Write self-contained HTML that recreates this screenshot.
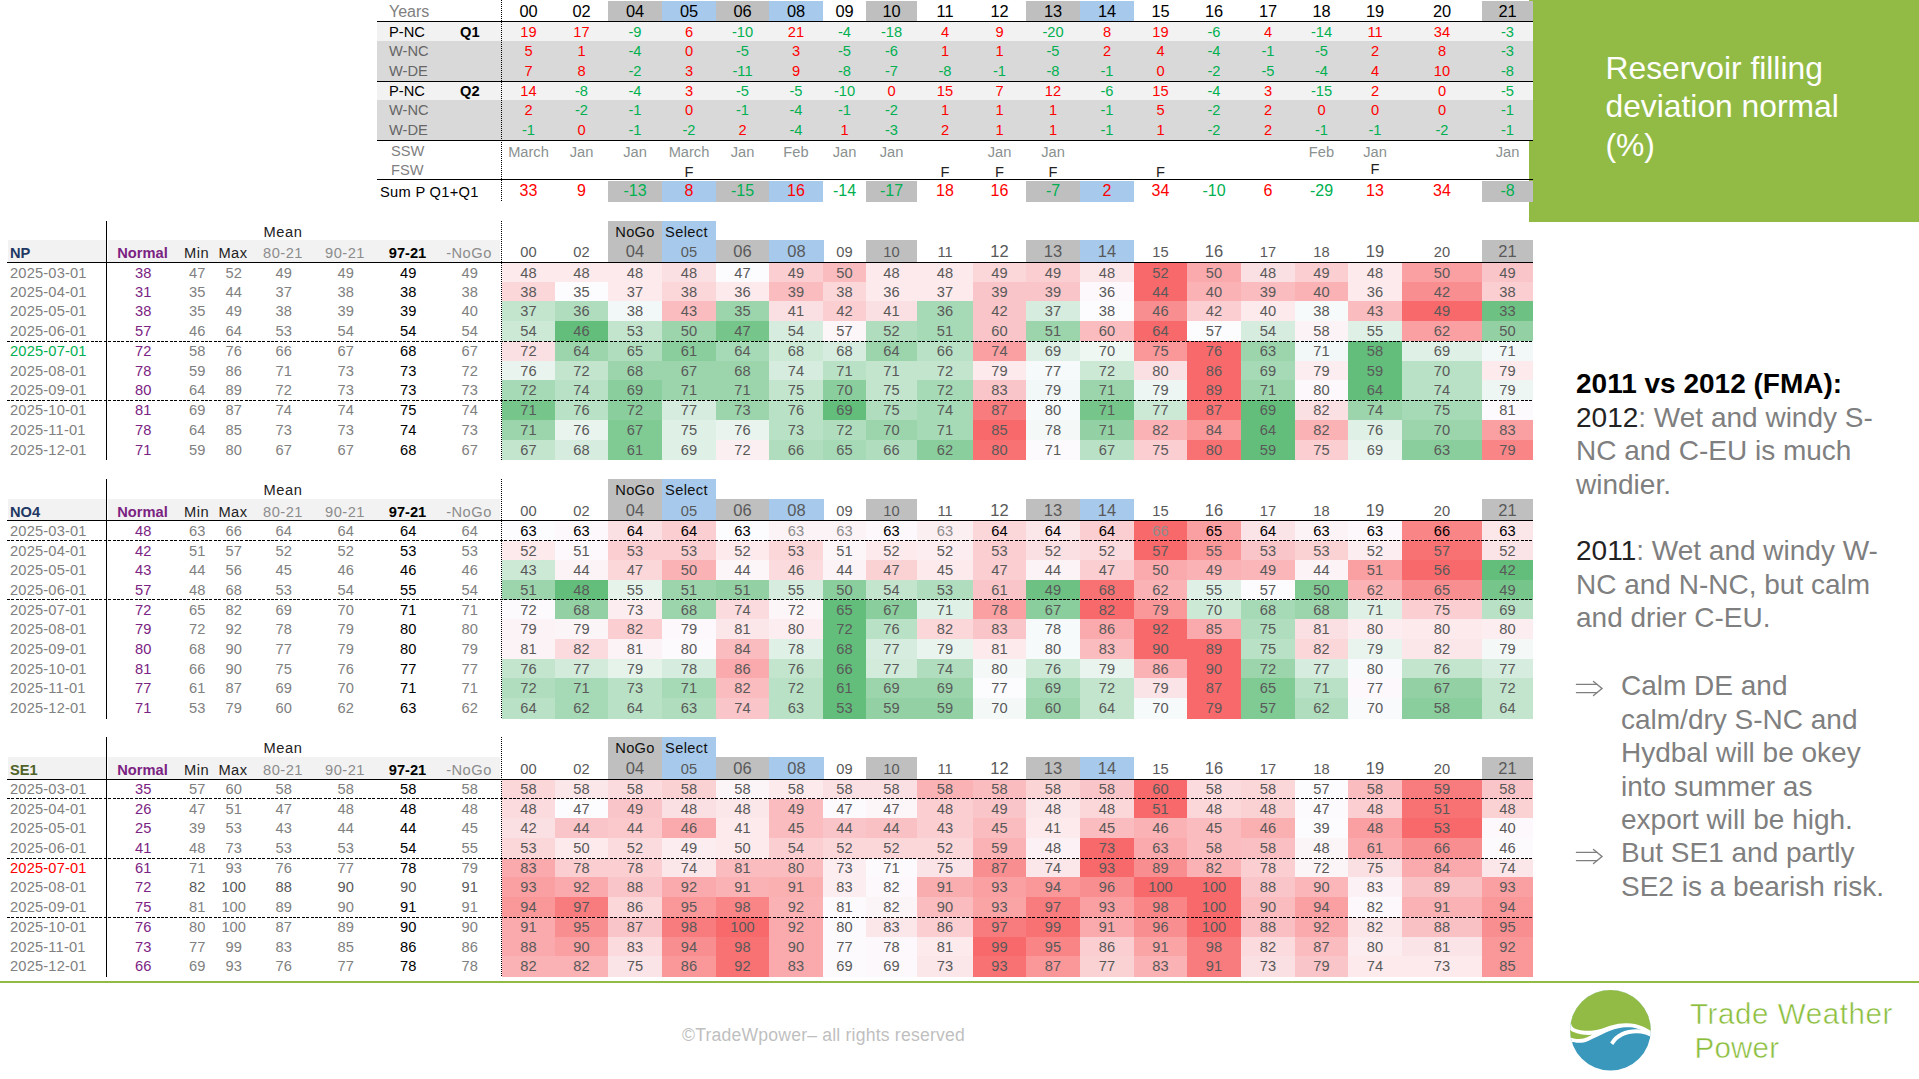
<!DOCTYPE html>
<html><head><meta charset="utf-8"><title>Reservoir filling deviation normal</title>
<style>
html,body{margin:0;padding:0;background:#fff;}
body{width:1919px;height:1079px;position:relative;overflow:hidden;font-family:"Liberation Sans",sans-serif;}
div{position:absolute;white-space:nowrap;box-sizing:border-box;}
</style></head><body>
<div style="left:1529px;top:0px;width:390px;height:222px;background:#92bb45;"></div>
<div style="left:1605.5px;top:49px;width:300px;font-size:31.8px;line-height:38.4px;color:#fff;">Reservoir filling<br>deviation normal<br>(%)</div>
<div style="left:389px;top:1px;height:21px;line-height:21px;font-size:16px;color:#808080;">Years</div>
<div style="left:502px;top:1px;width:53px;height:20px;line-height:20px;text-align:center;font-size:16.4px;color:#000;">00</div>
<div style="left:555px;top:1px;width:53px;height:20px;line-height:20px;text-align:center;font-size:16.4px;color:#000;">02</div>
<div style="left:608px;top:1px;width:54px;height:20px;background:#bfbfbf;line-height:20px;text-align:center;font-size:16.4px;color:#000;">04</div>
<div style="left:662px;top:1px;width:54px;height:20px;background:#a6c9ec;line-height:20px;text-align:center;font-size:16.4px;color:#000;">05</div>
<div style="left:716px;top:1px;width:53px;height:20px;background:#bfbfbf;line-height:20px;text-align:center;font-size:16.4px;color:#000;">06</div>
<div style="left:769px;top:1px;width:54px;height:20px;background:#a6c9ec;line-height:20px;text-align:center;font-size:16.4px;color:#000;">08</div>
<div style="left:823px;top:1px;width:43px;height:20px;line-height:20px;text-align:center;font-size:16.4px;color:#000;">09</div>
<div style="left:866px;top:1px;width:51px;height:20px;background:#bfbfbf;line-height:20px;text-align:center;font-size:16.4px;color:#000;">10</div>
<div style="left:917px;top:1px;width:56px;height:20px;line-height:20px;text-align:center;font-size:16.4px;color:#000;">11</div>
<div style="left:973px;top:1px;width:53px;height:20px;line-height:20px;text-align:center;font-size:16.4px;color:#000;">12</div>
<div style="left:1026px;top:1px;width:54px;height:20px;background:#bfbfbf;line-height:20px;text-align:center;font-size:16.4px;color:#000;">13</div>
<div style="left:1080px;top:1px;width:54px;height:20px;background:#a6c9ec;line-height:20px;text-align:center;font-size:16.4px;color:#000;">14</div>
<div style="left:1134px;top:1px;width:53px;height:20px;line-height:20px;text-align:center;font-size:16.4px;color:#000;">15</div>
<div style="left:1187px;top:1px;width:54px;height:20px;line-height:20px;text-align:center;font-size:16.4px;color:#000;">16</div>
<div style="left:1241px;top:1px;width:54px;height:20px;line-height:20px;text-align:center;font-size:16.4px;color:#000;">17</div>
<div style="left:1295px;top:1px;width:53px;height:20px;line-height:20px;text-align:center;font-size:16.4px;color:#000;">18</div>
<div style="left:1348px;top:1px;width:54px;height:20px;line-height:20px;text-align:center;font-size:16.4px;color:#000;">19</div>
<div style="left:1402px;top:1px;width:80px;height:20px;line-height:20px;text-align:center;font-size:16.4px;color:#000;">20</div>
<div style="left:1482px;top:1px;width:51px;height:20px;background:#bfbfbf;line-height:20px;text-align:center;font-size:16.4px;color:#000;">21</div>
<div style="left:377px;top:22px;width:1156px;height:19px;background:#f2f2f2;"></div>
<div style="left:389px;top:22px;height:19px;line-height:20px;font-size:14.67px;color:#000;">P-NC</div>
<div style="left:460px;top:22px;height:19px;line-height:20px;font-size:14.67px;font-weight:bold;color:#000;">Q1</div>
<div style="left:502px;top:22px;width:53px;height:19px;line-height:20px;text-align:center;font-size:14.67px;color:#ff0000;">19</div>
<div style="left:555px;top:22px;width:53px;height:19px;line-height:20px;text-align:center;font-size:14.67px;color:#ff0000;">17</div>
<div style="left:608px;top:22px;width:54px;height:19px;line-height:20px;text-align:center;font-size:14.67px;color:#00b050;">-9</div>
<div style="left:662px;top:22px;width:54px;height:19px;line-height:20px;text-align:center;font-size:14.67px;color:#ff0000;">6</div>
<div style="left:716px;top:22px;width:53px;height:19px;line-height:20px;text-align:center;font-size:14.67px;color:#00b050;">-10</div>
<div style="left:769px;top:22px;width:54px;height:19px;line-height:20px;text-align:center;font-size:14.67px;color:#ff0000;">21</div>
<div style="left:823px;top:22px;width:43px;height:19px;line-height:20px;text-align:center;font-size:14.67px;color:#00b050;">-4</div>
<div style="left:866px;top:22px;width:51px;height:19px;line-height:20px;text-align:center;font-size:14.67px;color:#00b050;">-18</div>
<div style="left:917px;top:22px;width:56px;height:19px;line-height:20px;text-align:center;font-size:14.67px;color:#ff0000;">4</div>
<div style="left:973px;top:22px;width:53px;height:19px;line-height:20px;text-align:center;font-size:14.67px;color:#ff0000;">9</div>
<div style="left:1026px;top:22px;width:54px;height:19px;line-height:20px;text-align:center;font-size:14.67px;color:#00b050;">-20</div>
<div style="left:1080px;top:22px;width:54px;height:19px;line-height:20px;text-align:center;font-size:14.67px;color:#ff0000;">8</div>
<div style="left:1134px;top:22px;width:53px;height:19px;line-height:20px;text-align:center;font-size:14.67px;color:#ff0000;">19</div>
<div style="left:1187px;top:22px;width:54px;height:19px;line-height:20px;text-align:center;font-size:14.67px;color:#00b050;">-6</div>
<div style="left:1241px;top:22px;width:54px;height:19px;line-height:20px;text-align:center;font-size:14.67px;color:#ff0000;">4</div>
<div style="left:1295px;top:22px;width:53px;height:19px;line-height:20px;text-align:center;font-size:14.67px;color:#00b050;">-14</div>
<div style="left:1348px;top:22px;width:54px;height:19px;line-height:20px;text-align:center;font-size:14.67px;color:#ff0000;">11</div>
<div style="left:1402px;top:22px;width:80px;height:19px;line-height:20px;text-align:center;font-size:14.67px;color:#ff0000;">34</div>
<div style="left:1482px;top:22px;width:51px;height:19px;line-height:20px;text-align:center;font-size:14.67px;color:#00b050;">-3</div>
<div style="left:377px;top:41px;width:1156px;height:20px;background:#d9d9d9;"></div>
<div style="left:389px;top:41px;height:20px;line-height:21px;font-size:14.67px;color:#666;">W-NC</div>
<div style="left:502px;top:41px;width:53px;height:20px;line-height:21px;text-align:center;font-size:14.67px;color:#ff0000;">5</div>
<div style="left:555px;top:41px;width:53px;height:20px;line-height:21px;text-align:center;font-size:14.67px;color:#ff0000;">1</div>
<div style="left:608px;top:41px;width:54px;height:20px;line-height:21px;text-align:center;font-size:14.67px;color:#00b050;">-4</div>
<div style="left:662px;top:41px;width:54px;height:20px;line-height:21px;text-align:center;font-size:14.67px;color:#ff0000;">0</div>
<div style="left:716px;top:41px;width:53px;height:20px;line-height:21px;text-align:center;font-size:14.67px;color:#00b050;">-5</div>
<div style="left:769px;top:41px;width:54px;height:20px;line-height:21px;text-align:center;font-size:14.67px;color:#ff0000;">3</div>
<div style="left:823px;top:41px;width:43px;height:20px;line-height:21px;text-align:center;font-size:14.67px;color:#00b050;">-5</div>
<div style="left:866px;top:41px;width:51px;height:20px;line-height:21px;text-align:center;font-size:14.67px;color:#00b050;">-6</div>
<div style="left:917px;top:41px;width:56px;height:20px;line-height:21px;text-align:center;font-size:14.67px;color:#ff0000;">1</div>
<div style="left:973px;top:41px;width:53px;height:20px;line-height:21px;text-align:center;font-size:14.67px;color:#ff0000;">1</div>
<div style="left:1026px;top:41px;width:54px;height:20px;line-height:21px;text-align:center;font-size:14.67px;color:#00b050;">-5</div>
<div style="left:1080px;top:41px;width:54px;height:20px;line-height:21px;text-align:center;font-size:14.67px;color:#ff0000;">2</div>
<div style="left:1134px;top:41px;width:53px;height:20px;line-height:21px;text-align:center;font-size:14.67px;color:#ff0000;">4</div>
<div style="left:1187px;top:41px;width:54px;height:20px;line-height:21px;text-align:center;font-size:14.67px;color:#00b050;">-4</div>
<div style="left:1241px;top:41px;width:54px;height:20px;line-height:21px;text-align:center;font-size:14.67px;color:#00b050;">-1</div>
<div style="left:1295px;top:41px;width:53px;height:20px;line-height:21px;text-align:center;font-size:14.67px;color:#00b050;">-5</div>
<div style="left:1348px;top:41px;width:54px;height:20px;line-height:21px;text-align:center;font-size:14.67px;color:#ff0000;">2</div>
<div style="left:1402px;top:41px;width:80px;height:20px;line-height:21px;text-align:center;font-size:14.67px;color:#ff0000;">8</div>
<div style="left:1482px;top:41px;width:51px;height:20px;line-height:21px;text-align:center;font-size:14.67px;color:#00b050;">-3</div>
<div style="left:377px;top:61px;width:1156px;height:20px;background:#d9d9d9;"></div>
<div style="left:389px;top:61px;height:20px;line-height:21px;font-size:14.67px;color:#666;">W-DE</div>
<div style="left:502px;top:61px;width:53px;height:20px;line-height:21px;text-align:center;font-size:14.67px;color:#ff0000;">7</div>
<div style="left:555px;top:61px;width:53px;height:20px;line-height:21px;text-align:center;font-size:14.67px;color:#ff0000;">8</div>
<div style="left:608px;top:61px;width:54px;height:20px;line-height:21px;text-align:center;font-size:14.67px;color:#00b050;">-2</div>
<div style="left:662px;top:61px;width:54px;height:20px;line-height:21px;text-align:center;font-size:14.67px;color:#ff0000;">3</div>
<div style="left:716px;top:61px;width:53px;height:20px;line-height:21px;text-align:center;font-size:14.67px;color:#00b050;">-11</div>
<div style="left:769px;top:61px;width:54px;height:20px;line-height:21px;text-align:center;font-size:14.67px;color:#ff0000;">9</div>
<div style="left:823px;top:61px;width:43px;height:20px;line-height:21px;text-align:center;font-size:14.67px;color:#00b050;">-8</div>
<div style="left:866px;top:61px;width:51px;height:20px;line-height:21px;text-align:center;font-size:14.67px;color:#00b050;">-7</div>
<div style="left:917px;top:61px;width:56px;height:20px;line-height:21px;text-align:center;font-size:14.67px;color:#00b050;">-8</div>
<div style="left:973px;top:61px;width:53px;height:20px;line-height:21px;text-align:center;font-size:14.67px;color:#00b050;">-1</div>
<div style="left:1026px;top:61px;width:54px;height:20px;line-height:21px;text-align:center;font-size:14.67px;color:#00b050;">-8</div>
<div style="left:1080px;top:61px;width:54px;height:20px;line-height:21px;text-align:center;font-size:14.67px;color:#00b050;">-1</div>
<div style="left:1134px;top:61px;width:53px;height:20px;line-height:21px;text-align:center;font-size:14.67px;color:#ff0000;">0</div>
<div style="left:1187px;top:61px;width:54px;height:20px;line-height:21px;text-align:center;font-size:14.67px;color:#00b050;">-2</div>
<div style="left:1241px;top:61px;width:54px;height:20px;line-height:21px;text-align:center;font-size:14.67px;color:#00b050;">-5</div>
<div style="left:1295px;top:61px;width:53px;height:20px;line-height:21px;text-align:center;font-size:14.67px;color:#00b050;">-4</div>
<div style="left:1348px;top:61px;width:54px;height:20px;line-height:21px;text-align:center;font-size:14.67px;color:#ff0000;">4</div>
<div style="left:1402px;top:61px;width:80px;height:20px;line-height:21px;text-align:center;font-size:14.67px;color:#ff0000;">10</div>
<div style="left:1482px;top:61px;width:51px;height:20px;line-height:21px;text-align:center;font-size:14.67px;color:#00b050;">-8</div>
<div style="left:377px;top:82px;width:1156px;height:18px;background:#f2f2f2;"></div>
<div style="left:389px;top:82px;height:18px;line-height:19px;font-size:14.67px;color:#000;">P-NC</div>
<div style="left:460px;top:82px;height:18px;line-height:19px;font-size:14.67px;font-weight:bold;color:#000;">Q2</div>
<div style="left:502px;top:82px;width:53px;height:18px;line-height:19px;text-align:center;font-size:14.67px;color:#ff0000;">14</div>
<div style="left:555px;top:82px;width:53px;height:18px;line-height:19px;text-align:center;font-size:14.67px;color:#00b050;">-8</div>
<div style="left:608px;top:82px;width:54px;height:18px;line-height:19px;text-align:center;font-size:14.67px;color:#00b050;">-4</div>
<div style="left:662px;top:82px;width:54px;height:18px;line-height:19px;text-align:center;font-size:14.67px;color:#ff0000;">3</div>
<div style="left:716px;top:82px;width:53px;height:18px;line-height:19px;text-align:center;font-size:14.67px;color:#00b050;">-5</div>
<div style="left:769px;top:82px;width:54px;height:18px;line-height:19px;text-align:center;font-size:14.67px;color:#00b050;">-5</div>
<div style="left:823px;top:82px;width:43px;height:18px;line-height:19px;text-align:center;font-size:14.67px;color:#00b050;">-10</div>
<div style="left:866px;top:82px;width:51px;height:18px;line-height:19px;text-align:center;font-size:14.67px;color:#ff0000;">0</div>
<div style="left:917px;top:82px;width:56px;height:18px;line-height:19px;text-align:center;font-size:14.67px;color:#ff0000;">15</div>
<div style="left:973px;top:82px;width:53px;height:18px;line-height:19px;text-align:center;font-size:14.67px;color:#ff0000;">7</div>
<div style="left:1026px;top:82px;width:54px;height:18px;line-height:19px;text-align:center;font-size:14.67px;color:#ff0000;">12</div>
<div style="left:1080px;top:82px;width:54px;height:18px;line-height:19px;text-align:center;font-size:14.67px;color:#00b050;">-6</div>
<div style="left:1134px;top:82px;width:53px;height:18px;line-height:19px;text-align:center;font-size:14.67px;color:#ff0000;">15</div>
<div style="left:1187px;top:82px;width:54px;height:18px;line-height:19px;text-align:center;font-size:14.67px;color:#00b050;">-4</div>
<div style="left:1241px;top:82px;width:54px;height:18px;line-height:19px;text-align:center;font-size:14.67px;color:#ff0000;">3</div>
<div style="left:1295px;top:82px;width:53px;height:18px;line-height:19px;text-align:center;font-size:14.67px;color:#00b050;">-15</div>
<div style="left:1348px;top:82px;width:54px;height:18px;line-height:19px;text-align:center;font-size:14.67px;color:#ff0000;">2</div>
<div style="left:1402px;top:82px;width:80px;height:18px;line-height:19px;text-align:center;font-size:14.67px;color:#ff0000;">0</div>
<div style="left:1482px;top:82px;width:51px;height:18px;line-height:19px;text-align:center;font-size:14.67px;color:#00b050;">-5</div>
<div style="left:377px;top:100px;width:1156px;height:20px;background:#d9d9d9;"></div>
<div style="left:389px;top:100px;height:20px;line-height:21px;font-size:14.67px;color:#666;">W-NC</div>
<div style="left:502px;top:100px;width:53px;height:20px;line-height:21px;text-align:center;font-size:14.67px;color:#ff0000;">2</div>
<div style="left:555px;top:100px;width:53px;height:20px;line-height:21px;text-align:center;font-size:14.67px;color:#00b050;">-2</div>
<div style="left:608px;top:100px;width:54px;height:20px;line-height:21px;text-align:center;font-size:14.67px;color:#00b050;">-1</div>
<div style="left:662px;top:100px;width:54px;height:20px;line-height:21px;text-align:center;font-size:14.67px;color:#ff0000;">0</div>
<div style="left:716px;top:100px;width:53px;height:20px;line-height:21px;text-align:center;font-size:14.67px;color:#00b050;">-1</div>
<div style="left:769px;top:100px;width:54px;height:20px;line-height:21px;text-align:center;font-size:14.67px;color:#00b050;">-4</div>
<div style="left:823px;top:100px;width:43px;height:20px;line-height:21px;text-align:center;font-size:14.67px;color:#00b050;">-1</div>
<div style="left:866px;top:100px;width:51px;height:20px;line-height:21px;text-align:center;font-size:14.67px;color:#00b050;">-2</div>
<div style="left:917px;top:100px;width:56px;height:20px;line-height:21px;text-align:center;font-size:14.67px;color:#ff0000;">1</div>
<div style="left:973px;top:100px;width:53px;height:20px;line-height:21px;text-align:center;font-size:14.67px;color:#ff0000;">1</div>
<div style="left:1026px;top:100px;width:54px;height:20px;line-height:21px;text-align:center;font-size:14.67px;color:#ff0000;">1</div>
<div style="left:1080px;top:100px;width:54px;height:20px;line-height:21px;text-align:center;font-size:14.67px;color:#00b050;">-1</div>
<div style="left:1134px;top:100px;width:53px;height:20px;line-height:21px;text-align:center;font-size:14.67px;color:#ff0000;">5</div>
<div style="left:1187px;top:100px;width:54px;height:20px;line-height:21px;text-align:center;font-size:14.67px;color:#00b050;">-2</div>
<div style="left:1241px;top:100px;width:54px;height:20px;line-height:21px;text-align:center;font-size:14.67px;color:#ff0000;">2</div>
<div style="left:1295px;top:100px;width:53px;height:20px;line-height:21px;text-align:center;font-size:14.67px;color:#ff0000;">0</div>
<div style="left:1348px;top:100px;width:54px;height:20px;line-height:21px;text-align:center;font-size:14.67px;color:#ff0000;">0</div>
<div style="left:1402px;top:100px;width:80px;height:20px;line-height:21px;text-align:center;font-size:14.67px;color:#ff0000;">0</div>
<div style="left:1482px;top:100px;width:51px;height:20px;line-height:21px;text-align:center;font-size:14.67px;color:#00b050;">-1</div>
<div style="left:377px;top:120px;width:1156px;height:20px;background:#d9d9d9;"></div>
<div style="left:389px;top:120px;height:20px;line-height:21px;font-size:14.67px;color:#666;">W-DE</div>
<div style="left:502px;top:120px;width:53px;height:20px;line-height:21px;text-align:center;font-size:14.67px;color:#00b050;">-1</div>
<div style="left:555px;top:120px;width:53px;height:20px;line-height:21px;text-align:center;font-size:14.67px;color:#ff0000;">0</div>
<div style="left:608px;top:120px;width:54px;height:20px;line-height:21px;text-align:center;font-size:14.67px;color:#00b050;">-1</div>
<div style="left:662px;top:120px;width:54px;height:20px;line-height:21px;text-align:center;font-size:14.67px;color:#00b050;">-2</div>
<div style="left:716px;top:120px;width:53px;height:20px;line-height:21px;text-align:center;font-size:14.67px;color:#ff0000;">2</div>
<div style="left:769px;top:120px;width:54px;height:20px;line-height:21px;text-align:center;font-size:14.67px;color:#00b050;">-4</div>
<div style="left:823px;top:120px;width:43px;height:20px;line-height:21px;text-align:center;font-size:14.67px;color:#ff0000;">1</div>
<div style="left:866px;top:120px;width:51px;height:20px;line-height:21px;text-align:center;font-size:14.67px;color:#00b050;">-3</div>
<div style="left:917px;top:120px;width:56px;height:20px;line-height:21px;text-align:center;font-size:14.67px;color:#ff0000;">2</div>
<div style="left:973px;top:120px;width:53px;height:20px;line-height:21px;text-align:center;font-size:14.67px;color:#ff0000;">1</div>
<div style="left:1026px;top:120px;width:54px;height:20px;line-height:21px;text-align:center;font-size:14.67px;color:#ff0000;">1</div>
<div style="left:1080px;top:120px;width:54px;height:20px;line-height:21px;text-align:center;font-size:14.67px;color:#00b050;">-1</div>
<div style="left:1134px;top:120px;width:53px;height:20px;line-height:21px;text-align:center;font-size:14.67px;color:#ff0000;">1</div>
<div style="left:1187px;top:120px;width:54px;height:20px;line-height:21px;text-align:center;font-size:14.67px;color:#00b050;">-2</div>
<div style="left:1241px;top:120px;width:54px;height:20px;line-height:21px;text-align:center;font-size:14.67px;color:#ff0000;">2</div>
<div style="left:1295px;top:120px;width:53px;height:20px;line-height:21px;text-align:center;font-size:14.67px;color:#00b050;">-1</div>
<div style="left:1348px;top:120px;width:54px;height:20px;line-height:21px;text-align:center;font-size:14.67px;color:#00b050;">-1</div>
<div style="left:1402px;top:120px;width:80px;height:20px;line-height:21px;text-align:center;font-size:14.67px;color:#00b050;">-2</div>
<div style="left:1482px;top:120px;width:51px;height:20px;line-height:21px;text-align:center;font-size:14.67px;color:#00b050;">-1</div>
<div style="left:391px;top:141px;height:19px;line-height:20px;font-size:14.67px;color:#7f7f7f;">SSW</div>
<div style="left:391px;top:160px;height:19px;line-height:20px;font-size:14.67px;color:#7f7f7f;">FSW</div>
<div style="left:380px;top:182px;height:21px;line-height:21px;font-size:14.67px;letter-spacing:0.3px;color:#000;">Sum P Q1+Q1</div>
<div style="left:502px;top:142px;width:53px;height:20px;line-height:21px;text-align:center;font-size:14.67px;color:#8a918f;">March</div>
<div style="left:502px;top:181px;width:53px;height:21px;line-height:19.5px;text-align:center;font-size:16px;color:#ff0000;">33</div>
<div style="left:555px;top:142px;width:53px;height:20px;line-height:21px;text-align:center;font-size:14.67px;color:#8a918f;">Jan</div>
<div style="left:555px;top:181px;width:53px;height:21px;line-height:19.5px;text-align:center;font-size:16px;color:#ff0000;">9</div>
<div style="left:608px;top:142px;width:54px;height:20px;line-height:21px;text-align:center;font-size:14.67px;color:#8a918f;">Jan</div>
<div style="left:608px;top:181px;width:54px;height:21px;background:#bfbfbf;line-height:19.5px;text-align:center;font-size:16px;color:#00b050;">-13</div>
<div style="left:662px;top:142px;width:54px;height:20px;line-height:21px;text-align:center;font-size:14.67px;color:#8a918f;">March</div>
<div style="left:662px;top:162px;width:54px;height:19px;line-height:20px;text-align:center;font-size:14.67px;color:#222;">F</div>
<div style="left:662px;top:181px;width:54px;height:21px;background:#a6c9ec;line-height:19.5px;text-align:center;font-size:16px;color:#ff0000;">8</div>
<div style="left:716px;top:142px;width:53px;height:20px;line-height:21px;text-align:center;font-size:14.67px;color:#8a918f;">Jan</div>
<div style="left:716px;top:181px;width:53px;height:21px;background:#bfbfbf;line-height:19.5px;text-align:center;font-size:16px;color:#00b050;">-15</div>
<div style="left:769px;top:142px;width:54px;height:20px;line-height:21px;text-align:center;font-size:14.67px;color:#8a918f;">Feb</div>
<div style="left:769px;top:181px;width:54px;height:21px;background:#a6c9ec;line-height:19.5px;text-align:center;font-size:16px;color:#ff0000;">16</div>
<div style="left:823px;top:142px;width:43px;height:20px;line-height:21px;text-align:center;font-size:14.67px;color:#8a918f;">Jan</div>
<div style="left:823px;top:181px;width:43px;height:21px;line-height:19.5px;text-align:center;font-size:16px;color:#00b050;">-14</div>
<div style="left:866px;top:142px;width:51px;height:20px;line-height:21px;text-align:center;font-size:14.67px;color:#8a918f;">Jan</div>
<div style="left:866px;top:181px;width:51px;height:21px;background:#bfbfbf;line-height:19.5px;text-align:center;font-size:16px;color:#00b050;">-17</div>
<div style="left:917px;top:162px;width:56px;height:19px;line-height:20px;text-align:center;font-size:14.67px;color:#222;">F</div>
<div style="left:917px;top:181px;width:56px;height:21px;line-height:19.5px;text-align:center;font-size:16px;color:#ff0000;">18</div>
<div style="left:973px;top:142px;width:53px;height:20px;line-height:21px;text-align:center;font-size:14.67px;color:#8a918f;">Jan</div>
<div style="left:973px;top:162px;width:53px;height:19px;line-height:20px;text-align:center;font-size:14.67px;color:#222;">F</div>
<div style="left:973px;top:181px;width:53px;height:21px;line-height:19.5px;text-align:center;font-size:16px;color:#ff0000;">16</div>
<div style="left:1026px;top:142px;width:54px;height:20px;line-height:21px;text-align:center;font-size:14.67px;color:#8a918f;">Jan</div>
<div style="left:1026px;top:162px;width:54px;height:19px;line-height:20px;text-align:center;font-size:14.67px;color:#222;">F</div>
<div style="left:1026px;top:181px;width:54px;height:21px;background:#bfbfbf;line-height:19.5px;text-align:center;font-size:16px;color:#00b050;">-7</div>
<div style="left:1080px;top:181px;width:54px;height:21px;background:#a6c9ec;line-height:19.5px;text-align:center;font-size:16px;color:#ff0000;">2</div>
<div style="left:1134px;top:162px;width:53px;height:19px;line-height:20px;text-align:center;font-size:14.67px;color:#222;">F</div>
<div style="left:1134px;top:181px;width:53px;height:21px;line-height:19.5px;text-align:center;font-size:16px;color:#ff0000;">34</div>
<div style="left:1187px;top:181px;width:54px;height:21px;line-height:19.5px;text-align:center;font-size:16px;color:#00b050;">-10</div>
<div style="left:1241px;top:181px;width:54px;height:21px;line-height:19.5px;text-align:center;font-size:16px;color:#ff0000;">6</div>
<div style="left:1295px;top:142px;width:53px;height:20px;line-height:21px;text-align:center;font-size:14.67px;color:#8a918f;">Feb</div>
<div style="left:1295px;top:181px;width:53px;height:21px;line-height:19.5px;text-align:center;font-size:16px;color:#00b050;">-29</div>
<div style="left:1348px;top:142px;width:54px;height:20px;line-height:21px;text-align:center;font-size:14.67px;color:#8a918f;">Jan</div>
<div style="left:1348px;top:159px;width:54px;height:19px;line-height:20px;text-align:center;font-size:14.67px;color:#222;">F</div>
<div style="left:1348px;top:181px;width:54px;height:21px;line-height:19.5px;text-align:center;font-size:16px;color:#ff0000;">13</div>
<div style="left:1402px;top:181px;width:80px;height:21px;line-height:19.5px;text-align:center;font-size:16px;color:#ff0000;">34</div>
<div style="left:1482px;top:142px;width:51px;height:20px;line-height:21px;text-align:center;font-size:14.67px;color:#8a918f;">Jan</div>
<div style="left:1482px;top:181px;width:51px;height:21px;background:#bfbfbf;line-height:19.5px;text-align:center;font-size:16px;color:#00b050;">-8</div>
<div style="left:377px;top:21px;width:1156px;height:1.4px;background:#000;"></div>
<div style="left:377px;top:81px;width:1156px;height:1.4px;background:#000;"></div>
<div style="left:377px;top:139.8px;width:1156px;height:1.4px;background:#000;"></div>
<div style="left:377px;top:178.9px;width:1156px;height:1.4px;background:#000;"></div>
<div style="left:501.2px;top:0;height:201px;width:1.1px;background:repeating-linear-gradient(180deg,#000 0 1px,transparent 1px 2px);"></div>
<div style="left:8px;top:240px;width:98px;height:22.30000000000001px;background:#f2f2f2;"></div>
<div style="left:108px;top:240px;width:392px;height:22.30000000000001px;background:#f2f2f2;"></div>
<div style="left:10px;top:240px;height:22.30000000000001px;line-height:27.30000000000001px;font-size:14.67px;font-weight:bold;color:#1f3864;">NP</div>
<div style="left:233px;width:100px;text-align:center;top:222px;height:20px;line-height:20px;font-size:14.67px;color:#222;letter-spacing:0.6px;">Mean</div>
<div style="left:102.5px;width:80px;text-align:center;top:240px;height:22.30000000000001px;line-height:27.30000000000001px;font-size:14.67px;color:#7b2382;font-weight:bold;">Normal</div>
<div style="left:156.5px;width:80px;text-align:center;top:240px;height:22.30000000000001px;line-height:27.30000000000001px;font-size:14.67px;color:#222;letter-spacing:0.5px;">Min</div>
<div style="left:193px;width:80px;text-align:center;top:240px;height:22.30000000000001px;line-height:27.30000000000001px;font-size:14.67px;color:#222;letter-spacing:0.5px;">Max</div>
<div style="left:243px;width:80px;text-align:center;top:240px;height:22.30000000000001px;line-height:27.30000000000001px;font-size:14.67px;color:#8c8c8c;letter-spacing:0.5px;">80-21</div>
<div style="left:305px;width:80px;text-align:center;top:240px;height:22.30000000000001px;line-height:27.30000000000001px;font-size:14.67px;color:#8c8c8c;letter-spacing:0.5px;">90-21</div>
<div style="left:367.5px;width:80px;text-align:center;top:240px;height:22.30000000000001px;line-height:27.30000000000001px;font-size:14.67px;color:#000;font-weight:bold;">97-21</div>
<div style="left:429px;width:80px;text-align:center;top:240px;height:22.30000000000001px;line-height:27.30000000000001px;font-size:14.67px;color:#8c8c8c;letter-spacing:0.5px;">-NoGo</div>
<div style="left:608px;top:221px;width:54px;height:20px;background:#bfbfbf;line-height:22.5px;text-align:center;font-size:14.67px;color:#111;letter-spacing:0.3px;">NoGo</div>
<div style="left:662px;top:221px;width:54px;height:20px;background:#a6c9ec;line-height:22.5px;text-align:center;font-size:14.67px;color:#111;letter-spacing:0.35px;padding-right:5px;">Select</div>
<div style="left:502px;top:240px;width:53px;height:22.30000000000001px;line-height:24.80000000000001px;text-align:center;font-size:14.67px;color:#595959;">00</div>
<div style="left:555px;top:240px;width:53px;height:22.30000000000001px;line-height:24.80000000000001px;text-align:center;font-size:14.67px;color:#595959;">02</div>
<div style="left:608px;top:240px;width:54px;height:22.30000000000001px;background:#bfbfbf;line-height:22.80000000000001px;text-align:center;font-size:16.5px;color:#595959;">04</div>
<div style="left:662px;top:240px;width:54px;height:22.30000000000001px;background:#a6c9ec;line-height:24.80000000000001px;text-align:center;font-size:14.67px;color:#595959;">05</div>
<div style="left:716px;top:240px;width:53px;height:22.30000000000001px;background:#bfbfbf;line-height:22.80000000000001px;text-align:center;font-size:16.5px;color:#595959;">06</div>
<div style="left:769px;top:240px;width:55px;height:22.30000000000001px;background:#a6c9ec;line-height:22.80000000000001px;text-align:center;font-size:16.5px;color:#595959;">08</div>
<div style="left:823px;top:240px;width:43px;height:22.30000000000001px;line-height:24.80000000000001px;text-align:center;font-size:14.67px;color:#595959;">09</div>
<div style="left:866px;top:240px;width:51px;height:22.30000000000001px;background:#bfbfbf;line-height:24.80000000000001px;text-align:center;font-size:14.67px;color:#595959;">10</div>
<div style="left:917px;top:240px;width:56px;height:22.30000000000001px;line-height:24.80000000000001px;text-align:center;font-size:14.67px;color:#595959;">11</div>
<div style="left:973px;top:240px;width:53px;height:22.30000000000001px;line-height:22.80000000000001px;text-align:center;font-size:16.5px;color:#595959;">12</div>
<div style="left:1026px;top:240px;width:54px;height:22.30000000000001px;background:#bfbfbf;line-height:22.80000000000001px;text-align:center;font-size:16.5px;color:#595959;">13</div>
<div style="left:1080px;top:240px;width:54px;height:22.30000000000001px;background:#a6c9ec;line-height:22.80000000000001px;text-align:center;font-size:16.5px;color:#595959;">14</div>
<div style="left:1134px;top:240px;width:53px;height:22.30000000000001px;line-height:24.80000000000001px;text-align:center;font-size:14.67px;color:#595959;">15</div>
<div style="left:1187px;top:240px;width:54px;height:22.30000000000001px;line-height:22.80000000000001px;text-align:center;font-size:16.5px;color:#595959;">16</div>
<div style="left:1241px;top:240px;width:54px;height:22.30000000000001px;line-height:24.80000000000001px;text-align:center;font-size:14.67px;color:#595959;">17</div>
<div style="left:1295px;top:240px;width:53px;height:22.30000000000001px;line-height:24.80000000000001px;text-align:center;font-size:14.67px;color:#595959;">18</div>
<div style="left:1348px;top:240px;width:54px;height:22.30000000000001px;line-height:22.80000000000001px;text-align:center;font-size:16.5px;color:#595959;">19</div>
<div style="left:1402px;top:240px;width:80px;height:22.30000000000001px;line-height:24.80000000000001px;text-align:center;font-size:14.67px;color:#595959;">20</div>
<div style="left:1482px;top:240px;width:51px;height:22.30000000000001px;background:#bfbfbf;line-height:22.80000000000001px;text-align:center;font-size:16.5px;color:#595959;">21</div>
<div style="left:10px;top:263px;height:19px;line-height:20.4px;font-size:14.67px;color:#808080;letter-spacing:0.17px;">2025-03-01</div>
<div style="left:113.2px;width:60px;text-align:center;top:263px;height:19px;line-height:20.4px;font-size:14.67px;color:#7b2382;">38</div>
<div style="left:167.2px;width:60px;text-align:center;top:263px;height:19px;line-height:20.4px;font-size:14.67px;color:#808080;">47</div>
<div style="left:203.7px;width:60px;text-align:center;top:263px;height:19px;line-height:20.4px;font-size:14.67px;color:#808080;">52</div>
<div style="left:253.7px;width:60px;text-align:center;top:263px;height:19px;line-height:20.4px;font-size:14.67px;color:#808080;">49</div>
<div style="left:315.7px;width:60px;text-align:center;top:263px;height:19px;line-height:20.4px;font-size:14.67px;color:#808080;">49</div>
<div style="left:378.2px;width:60px;text-align:center;top:263px;height:19px;line-height:20.4px;font-size:14.67px;color:#000;">49</div>
<div style="left:439.7px;width:60px;text-align:center;top:263px;height:19px;line-height:20.4px;font-size:14.67px;color:#808080;">49</div>
<div style="left:502px;top:263px;width:53px;height:19px;background:#fceaec;line-height:20.4px;text-align:center;font-size:14.67px;color:#595959;">48</div>
<div style="left:555px;top:263px;width:53px;height:19px;background:#fceaec;line-height:20.4px;text-align:center;font-size:14.67px;color:#595959;">48</div>
<div style="left:608px;top:263px;width:54px;height:19px;background:#fceaec;line-height:20.4px;text-align:center;font-size:14.67px;color:#595959;">48</div>
<div style="left:662px;top:263px;width:54px;height:19px;background:#fbe0e3;line-height:20.4px;text-align:center;font-size:14.67px;color:#595959;">48</div>
<div style="left:716px;top:263px;width:53px;height:19px;background:#fcfcff;line-height:20.4px;text-align:center;font-size:14.67px;color:#595959;">47</div>
<div style="left:769px;top:263px;width:54px;height:19px;background:#fbced1;line-height:20.4px;text-align:center;font-size:14.67px;color:#595959;">49</div>
<div style="left:823px;top:263px;width:43px;height:19px;background:#fabcbe;line-height:20.4px;text-align:center;font-size:14.67px;color:#595959;">50</div>
<div style="left:866px;top:263px;width:51px;height:19px;background:#fceaec;line-height:20.4px;text-align:center;font-size:14.67px;color:#595959;">48</div>
<div style="left:917px;top:263px;width:56px;height:19px;background:#fceaec;line-height:20.4px;text-align:center;font-size:14.67px;color:#595959;">48</div>
<div style="left:973px;top:263px;width:53px;height:19px;background:#fbd7da;line-height:20.4px;text-align:center;font-size:14.67px;color:#595959;">49</div>
<div style="left:1026px;top:263px;width:54px;height:19px;background:#fbced1;line-height:20.4px;text-align:center;font-size:14.67px;color:#595959;">49</div>
<div style="left:1080px;top:263px;width:54px;height:19px;background:#fbe6e9;line-height:20.4px;text-align:center;font-size:14.67px;color:#595959;">48</div>
<div style="left:1134px;top:263px;width:53px;height:19px;background:#f8696b;line-height:20.4px;text-align:center;font-size:14.67px;color:#595959;">52</div>
<div style="left:1187px;top:263px;width:54px;height:19px;background:#faa9ac;line-height:20.4px;text-align:center;font-size:14.67px;color:#595959;">50</div>
<div style="left:1241px;top:263px;width:54px;height:19px;background:#fbe0e3;line-height:20.4px;text-align:center;font-size:14.67px;color:#595959;">48</div>
<div style="left:1295px;top:263px;width:53px;height:19px;background:#fbced1;line-height:20.4px;text-align:center;font-size:14.67px;color:#595959;">49</div>
<div style="left:1348px;top:263px;width:54px;height:19px;background:#fceaec;line-height:20.4px;text-align:center;font-size:14.67px;color:#595959;">48</div>
<div style="left:1402px;top:263px;width:80px;height:19px;background:#faa0a2;line-height:20.4px;text-align:center;font-size:14.67px;color:#595959;">50</div>
<div style="left:1482px;top:263px;width:51px;height:19px;background:#fac5c8;line-height:20.4px;text-align:center;font-size:14.67px;color:#595959;">49</div>
<div style="left:10px;top:282px;height:19px;line-height:20.4px;font-size:14.67px;color:#808080;letter-spacing:0.17px;">2025-04-01</div>
<div style="left:113.2px;width:60px;text-align:center;top:282px;height:19px;line-height:20.4px;font-size:14.67px;color:#7b2382;">31</div>
<div style="left:167.2px;width:60px;text-align:center;top:282px;height:19px;line-height:20.4px;font-size:14.67px;color:#808080;">35</div>
<div style="left:203.7px;width:60px;text-align:center;top:282px;height:19px;line-height:20.4px;font-size:14.67px;color:#808080;">44</div>
<div style="left:253.7px;width:60px;text-align:center;top:282px;height:19px;line-height:20.4px;font-size:14.67px;color:#808080;">37</div>
<div style="left:315.7px;width:60px;text-align:center;top:282px;height:19px;line-height:20.4px;font-size:14.67px;color:#808080;">38</div>
<div style="left:378.2px;width:60px;text-align:center;top:282px;height:19px;line-height:20.4px;font-size:14.67px;color:#000;">38</div>
<div style="left:439.7px;width:60px;text-align:center;top:282px;height:19px;line-height:20.4px;font-size:14.67px;color:#808080;">38</div>
<div style="left:502px;top:282px;width:53px;height:19px;background:#fbd7da;line-height:20.4px;text-align:center;font-size:14.67px;color:#595959;">38</div>
<div style="left:555px;top:282px;width:53px;height:19px;background:#fcfcff;line-height:20.4px;text-align:center;font-size:14.67px;color:#595959;">35</div>
<div style="left:608px;top:282px;width:54px;height:19px;background:#fceaec;line-height:20.4px;text-align:center;font-size:14.67px;color:#595959;">37</div>
<div style="left:662px;top:282px;width:54px;height:19px;background:#fbd7da;line-height:20.4px;text-align:center;font-size:14.67px;color:#595959;">38</div>
<div style="left:716px;top:282px;width:53px;height:19px;background:#fceaec;line-height:20.4px;text-align:center;font-size:14.67px;color:#595959;">36</div>
<div style="left:769px;top:282px;width:54px;height:19px;background:#fabcbe;line-height:20.4px;text-align:center;font-size:14.67px;color:#595959;">39</div>
<div style="left:823px;top:282px;width:43px;height:19px;background:#fbd7da;line-height:20.4px;text-align:center;font-size:14.67px;color:#595959;">38</div>
<div style="left:866px;top:282px;width:51px;height:19px;background:#fceaec;line-height:20.4px;text-align:center;font-size:14.67px;color:#595959;">36</div>
<div style="left:917px;top:282px;width:56px;height:19px;background:#fceaec;line-height:20.4px;text-align:center;font-size:14.67px;color:#595959;">37</div>
<div style="left:973px;top:282px;width:53px;height:19px;background:#fac5c8;line-height:20.4px;text-align:center;font-size:14.67px;color:#595959;">39</div>
<div style="left:1026px;top:282px;width:54px;height:19px;background:#fac5c8;line-height:20.4px;text-align:center;font-size:14.67px;color:#595959;">39</div>
<div style="left:1080px;top:282px;width:54px;height:19px;background:#fcf8fb;line-height:20.4px;text-align:center;font-size:14.67px;color:#595959;">36</div>
<div style="left:1134px;top:282px;width:53px;height:19px;background:#f8696b;line-height:20.4px;text-align:center;font-size:14.67px;color:#595959;">44</div>
<div style="left:1187px;top:282px;width:54px;height:19px;background:#fab2b5;line-height:20.4px;text-align:center;font-size:14.67px;color:#595959;">40</div>
<div style="left:1241px;top:282px;width:54px;height:19px;background:#fabcbe;line-height:20.4px;text-align:center;font-size:14.67px;color:#595959;">39</div>
<div style="left:1295px;top:282px;width:53px;height:19px;background:#fab2b5;line-height:20.4px;text-align:center;font-size:14.67px;color:#595959;">40</div>
<div style="left:1348px;top:282px;width:54px;height:19px;background:#fceaec;line-height:20.4px;text-align:center;font-size:14.67px;color:#595959;">36</div>
<div style="left:1402px;top:282px;width:80px;height:19px;background:#f98e90;line-height:20.4px;text-align:center;font-size:14.67px;color:#595959;">42</div>
<div style="left:1482px;top:282px;width:51px;height:19px;background:#fbced1;line-height:20.4px;text-align:center;font-size:14.67px;color:#595959;">38</div>
<div style="left:10px;top:301px;height:20px;line-height:21.4px;font-size:14.67px;color:#808080;letter-spacing:0.17px;">2025-05-01</div>
<div style="left:113.2px;width:60px;text-align:center;top:301px;height:20px;line-height:21.4px;font-size:14.67px;color:#7b2382;">38</div>
<div style="left:167.2px;width:60px;text-align:center;top:301px;height:20px;line-height:21.4px;font-size:14.67px;color:#808080;">35</div>
<div style="left:203.7px;width:60px;text-align:center;top:301px;height:20px;line-height:21.4px;font-size:14.67px;color:#808080;">49</div>
<div style="left:253.7px;width:60px;text-align:center;top:301px;height:20px;line-height:21.4px;font-size:14.67px;color:#808080;">38</div>
<div style="left:315.7px;width:60px;text-align:center;top:301px;height:20px;line-height:21.4px;font-size:14.67px;color:#808080;">39</div>
<div style="left:378.2px;width:60px;text-align:center;top:301px;height:20px;line-height:21.4px;font-size:14.67px;color:#000;">39</div>
<div style="left:439.7px;width:60px;text-align:center;top:301px;height:20px;line-height:21.4px;font-size:14.67px;color:#808080;">40</div>
<div style="left:502px;top:301px;width:53px;height:20px;background:#c3e5ce;line-height:21.4px;text-align:center;font-size:14.67px;color:#595959;">37</div>
<div style="left:555px;top:301px;width:53px;height:20px;background:#b0ddbd;line-height:21.4px;text-align:center;font-size:14.67px;color:#595959;">36</div>
<div style="left:608px;top:301px;width:54px;height:20px;background:#f2f8f7;line-height:21.4px;text-align:center;font-size:14.67px;color:#595959;">38</div>
<div style="left:662px;top:301px;width:54px;height:20px;background:#fabcbe;line-height:21.4px;text-align:center;font-size:14.67px;color:#595959;">43</div>
<div style="left:716px;top:301px;width:53px;height:20px;background:#9cd5ac;line-height:21.4px;text-align:center;font-size:14.67px;color:#595959;">35</div>
<div style="left:769px;top:301px;width:54px;height:20px;background:#fbe0e3;line-height:21.4px;text-align:center;font-size:14.67px;color:#595959;">41</div>
<div style="left:823px;top:301px;width:43px;height:20px;background:#fbced1;line-height:21.4px;text-align:center;font-size:14.67px;color:#595959;">42</div>
<div style="left:866px;top:301px;width:51px;height:20px;background:#fbe0e3;line-height:21.4px;text-align:center;font-size:14.67px;color:#595959;">41</div>
<div style="left:917px;top:301px;width:56px;height:20px;background:#a6d9b5;line-height:21.4px;text-align:center;font-size:14.67px;color:#595959;">36</div>
<div style="left:973px;top:301px;width:53px;height:20px;background:#fac5c8;line-height:21.4px;text-align:center;font-size:14.67px;color:#595959;">42</div>
<div style="left:1026px;top:301px;width:54px;height:20px;background:#d6ecde;line-height:21.4px;text-align:center;font-size:14.67px;color:#595959;">37</div>
<div style="left:1080px;top:301px;width:54px;height:20px;background:#fcfcff;line-height:21.4px;text-align:center;font-size:14.67px;color:#595959;">38</div>
<div style="left:1134px;top:301px;width:53px;height:20px;background:#f98e90;line-height:21.4px;text-align:center;font-size:14.67px;color:#595959;">46</div>
<div style="left:1187px;top:301px;width:54px;height:20px;background:#fbced1;line-height:21.4px;text-align:center;font-size:14.67px;color:#595959;">42</div>
<div style="left:1241px;top:301px;width:54px;height:20px;background:#fceaec;line-height:21.4px;text-align:center;font-size:14.67px;color:#595959;">40</div>
<div style="left:1295px;top:301px;width:53px;height:20px;background:#f6fafa;line-height:21.4px;text-align:center;font-size:14.67px;color:#595959;">38</div>
<div style="left:1348px;top:301px;width:54px;height:20px;background:#fabcbe;line-height:21.4px;text-align:center;font-size:14.67px;color:#595959;">43</div>
<div style="left:1402px;top:301px;width:80px;height:20px;background:#f8696b;line-height:21.4px;text-align:center;font-size:14.67px;color:#595959;">49</div>
<div style="left:1482px;top:301px;width:51px;height:20px;background:#6dc283;line-height:21.4px;text-align:center;font-size:14.67px;color:#595959;">33</div>
<div style="left:10px;top:321px;height:20px;line-height:21.4px;font-size:14.67px;color:#808080;letter-spacing:0.17px;">2025-06-01</div>
<div style="left:113.2px;width:60px;text-align:center;top:321px;height:20px;line-height:21.4px;font-size:14.67px;color:#7b2382;">57</div>
<div style="left:167.2px;width:60px;text-align:center;top:321px;height:20px;line-height:21.4px;font-size:14.67px;color:#808080;">46</div>
<div style="left:203.7px;width:60px;text-align:center;top:321px;height:20px;line-height:21.4px;font-size:14.67px;color:#808080;">64</div>
<div style="left:253.7px;width:60px;text-align:center;top:321px;height:20px;line-height:21.4px;font-size:14.67px;color:#808080;">53</div>
<div style="left:315.7px;width:60px;text-align:center;top:321px;height:20px;line-height:21.4px;font-size:14.67px;color:#808080;">54</div>
<div style="left:378.2px;width:60px;text-align:center;top:321px;height:20px;line-height:21.4px;font-size:14.67px;color:#000;">54</div>
<div style="left:439.7px;width:60px;text-align:center;top:321px;height:20px;line-height:21.4px;font-size:14.67px;color:#808080;">54</div>
<div style="left:502px;top:321px;width:53px;height:20px;background:#cce9d6;line-height:21.4px;text-align:center;font-size:14.67px;color:#595959;">54</div>
<div style="left:555px;top:321px;width:53px;height:20px;background:#63be7b;line-height:21.4px;text-align:center;font-size:14.67px;color:#595959;">46</div>
<div style="left:608px;top:321px;width:54px;height:20px;background:#c3e5ce;line-height:21.4px;text-align:center;font-size:14.67px;color:#595959;">53</div>
<div style="left:662px;top:321px;width:54px;height:20px;background:#9cd5ac;line-height:21.4px;text-align:center;font-size:14.67px;color:#595959;">50</div>
<div style="left:716px;top:321px;width:53px;height:20px;background:#76c68c;line-height:21.4px;text-align:center;font-size:14.67px;color:#595959;">47</div>
<div style="left:769px;top:321px;width:54px;height:20px;background:#d6ecde;line-height:21.4px;text-align:center;font-size:14.67px;color:#595959;">54</div>
<div style="left:823px;top:321px;width:43px;height:20px;background:#fcf6f9;line-height:21.4px;text-align:center;font-size:14.67px;color:#595959;">57</div>
<div style="left:866px;top:321px;width:51px;height:20px;background:#b0ddbd;line-height:21.4px;text-align:center;font-size:14.67px;color:#595959;">52</div>
<div style="left:917px;top:321px;width:56px;height:20px;background:#a6d9b5;line-height:21.4px;text-align:center;font-size:14.67px;color:#595959;">51</div>
<div style="left:973px;top:321px;width:53px;height:20px;background:#fac5c8;line-height:21.4px;text-align:center;font-size:14.67px;color:#595959;">60</div>
<div style="left:1026px;top:321px;width:54px;height:20px;background:#9cd5ac;line-height:21.4px;text-align:center;font-size:14.67px;color:#595959;">51</div>
<div style="left:1080px;top:321px;width:54px;height:20px;background:#fabcbe;line-height:21.4px;text-align:center;font-size:14.67px;color:#595959;">60</div>
<div style="left:1134px;top:321px;width:53px;height:20px;background:#f8696b;line-height:21.4px;text-align:center;font-size:14.67px;color:#595959;">64</div>
<div style="left:1187px;top:321px;width:54px;height:20px;background:#fcfcff;line-height:21.4px;text-align:center;font-size:14.67px;color:#595959;">57</div>
<div style="left:1241px;top:321px;width:54px;height:20px;background:#d6ecde;line-height:21.4px;text-align:center;font-size:14.67px;color:#595959;">54</div>
<div style="left:1295px;top:321px;width:53px;height:20px;background:#fcf3f6;line-height:21.4px;text-align:center;font-size:14.67px;color:#595959;">58</div>
<div style="left:1348px;top:321px;width:54px;height:20px;background:#dff0e6;line-height:21.4px;text-align:center;font-size:14.67px;color:#595959;">55</div>
<div style="left:1402px;top:321px;width:80px;height:20px;background:#faa0a2;line-height:21.4px;text-align:center;font-size:14.67px;color:#595959;">62</div>
<div style="left:1482px;top:321px;width:51px;height:20px;background:#93d1a4;line-height:21.4px;text-align:center;font-size:14.67px;color:#595959;">50</div>
<div style="left:10px;top:341px;height:19.5px;line-height:20.9px;font-size:14.67px;color:#00b050;letter-spacing:0.17px;">2025-07-01</div>
<div style="left:113.2px;width:60px;text-align:center;top:341px;height:19.5px;line-height:20.9px;font-size:14.67px;color:#7b2382;">72</div>
<div style="left:167.2px;width:60px;text-align:center;top:341px;height:19.5px;line-height:20.9px;font-size:14.67px;color:#808080;">58</div>
<div style="left:203.7px;width:60px;text-align:center;top:341px;height:19.5px;line-height:20.9px;font-size:14.67px;color:#808080;">76</div>
<div style="left:253.7px;width:60px;text-align:center;top:341px;height:19.5px;line-height:20.9px;font-size:14.67px;color:#808080;">66</div>
<div style="left:315.7px;width:60px;text-align:center;top:341px;height:19.5px;line-height:20.9px;font-size:14.67px;color:#808080;">67</div>
<div style="left:378.2px;width:60px;text-align:center;top:341px;height:19.5px;line-height:20.9px;font-size:14.67px;color:#000;">68</div>
<div style="left:439.7px;width:60px;text-align:center;top:341px;height:19.5px;line-height:20.9px;font-size:14.67px;color:#808080;">67</div>
<div style="left:502px;top:341px;width:53px;height:19.5px;background:#fbe0e3;line-height:20.9px;text-align:center;font-size:14.67px;color:#595959;">72</div>
<div style="left:555px;top:341px;width:53px;height:19.5px;background:#9cd5ac;line-height:20.9px;text-align:center;font-size:14.67px;color:#595959;">64</div>
<div style="left:608px;top:341px;width:54px;height:19.5px;background:#b0ddbd;line-height:20.9px;text-align:center;font-size:14.67px;color:#595959;">65</div>
<div style="left:662px;top:341px;width:54px;height:19.5px;background:#89ce9c;line-height:20.9px;text-align:center;font-size:14.67px;color:#595959;">61</div>
<div style="left:716px;top:341px;width:53px;height:19.5px;background:#a6d9b5;line-height:20.9px;text-align:center;font-size:14.67px;color:#595959;">64</div>
<div style="left:769px;top:341px;width:54px;height:19.5px;background:#cce9d6;line-height:20.9px;text-align:center;font-size:14.67px;color:#595959;">68</div>
<div style="left:823px;top:341px;width:43px;height:19.5px;background:#d6ecde;line-height:20.9px;text-align:center;font-size:14.67px;color:#595959;">68</div>
<div style="left:866px;top:341px;width:51px;height:19.5px;background:#9cd5ac;line-height:20.9px;text-align:center;font-size:14.67px;color:#595959;">64</div>
<div style="left:917px;top:341px;width:56px;height:19.5px;background:#b9e1c5;line-height:20.9px;text-align:center;font-size:14.67px;color:#595959;">66</div>
<div style="left:973px;top:341px;width:53px;height:19.5px;background:#faa0a2;line-height:20.9px;text-align:center;font-size:14.67px;color:#595959;">74</div>
<div style="left:1026px;top:341px;width:54px;height:19.5px;background:#dff0e6;line-height:20.9px;text-align:center;font-size:14.67px;color:#595959;">69</div>
<div style="left:1080px;top:341px;width:54px;height:19.5px;background:#eff7f3;line-height:20.9px;text-align:center;font-size:14.67px;color:#595959;">70</div>
<div style="left:1134px;top:341px;width:53px;height:19.5px;background:#f99799;line-height:20.9px;text-align:center;font-size:14.67px;color:#595959;">75</div>
<div style="left:1187px;top:341px;width:54px;height:19.5px;background:#f8696b;line-height:20.9px;text-align:center;font-size:14.67px;color:#595959;">76</div>
<div style="left:1241px;top:341px;width:54px;height:19.5px;background:#9cd5ac;line-height:20.9px;text-align:center;font-size:14.67px;color:#595959;">63</div>
<div style="left:1295px;top:341px;width:53px;height:19.5px;background:#f2f8f7;line-height:20.9px;text-align:center;font-size:14.67px;color:#595959;">71</div>
<div style="left:1348px;top:341px;width:54px;height:19.5px;background:#63be7b;line-height:20.9px;text-align:center;font-size:14.67px;color:#595959;">58</div>
<div style="left:1402px;top:341px;width:80px;height:19.5px;background:#dff0e6;line-height:20.9px;text-align:center;font-size:14.67px;color:#595959;">69</div>
<div style="left:1482px;top:341px;width:51px;height:19.5px;background:#f2f8f7;line-height:20.9px;text-align:center;font-size:14.67px;color:#595959;">71</div>
<div style="left:10px;top:360.5px;height:19.5px;line-height:20.9px;font-size:14.67px;color:#808080;letter-spacing:0.17px;">2025-08-01</div>
<div style="left:113.2px;width:60px;text-align:center;top:360.5px;height:19.5px;line-height:20.9px;font-size:14.67px;color:#7b2382;">78</div>
<div style="left:167.2px;width:60px;text-align:center;top:360.5px;height:19.5px;line-height:20.9px;font-size:14.67px;color:#808080;">59</div>
<div style="left:203.7px;width:60px;text-align:center;top:360.5px;height:19.5px;line-height:20.9px;font-size:14.67px;color:#808080;">86</div>
<div style="left:253.7px;width:60px;text-align:center;top:360.5px;height:19.5px;line-height:20.9px;font-size:14.67px;color:#808080;">71</div>
<div style="left:315.7px;width:60px;text-align:center;top:360.5px;height:19.5px;line-height:20.9px;font-size:14.67px;color:#808080;">73</div>
<div style="left:378.2px;width:60px;text-align:center;top:360.5px;height:19.5px;line-height:20.9px;font-size:14.67px;color:#000;">73</div>
<div style="left:439.7px;width:60px;text-align:center;top:360.5px;height:19.5px;line-height:20.9px;font-size:14.67px;color:#808080;">72</div>
<div style="left:502px;top:360.5px;width:53px;height:19.5px;background:#e9f4ee;line-height:20.9px;text-align:center;font-size:14.67px;color:#595959;">76</div>
<div style="left:555px;top:360.5px;width:53px;height:19.5px;background:#c3e5ce;line-height:20.9px;text-align:center;font-size:14.67px;color:#595959;">72</div>
<div style="left:608px;top:360.5px;width:54px;height:19.5px;background:#9cd5ac;line-height:20.9px;text-align:center;font-size:14.67px;color:#595959;">68</div>
<div style="left:662px;top:360.5px;width:54px;height:19.5px;background:#9cd5ac;line-height:20.9px;text-align:center;font-size:14.67px;color:#595959;">67</div>
<div style="left:716px;top:360.5px;width:53px;height:19.5px;background:#9cd5ac;line-height:20.9px;text-align:center;font-size:14.67px;color:#595959;">68</div>
<div style="left:769px;top:360.5px;width:54px;height:19.5px;background:#d6ecde;line-height:20.9px;text-align:center;font-size:14.67px;color:#595959;">74</div>
<div style="left:823px;top:360.5px;width:43px;height:19.5px;background:#b9e1c5;line-height:20.9px;text-align:center;font-size:14.67px;color:#595959;">71</div>
<div style="left:866px;top:360.5px;width:51px;height:19.5px;background:#c3e5ce;line-height:20.9px;text-align:center;font-size:14.67px;color:#595959;">71</div>
<div style="left:917px;top:360.5px;width:56px;height:19.5px;background:#c3e5ce;line-height:20.9px;text-align:center;font-size:14.67px;color:#595959;">72</div>
<div style="left:973px;top:360.5px;width:53px;height:19.5px;background:#fceaec;line-height:20.9px;text-align:center;font-size:14.67px;color:#595959;">79</div>
<div style="left:1026px;top:360.5px;width:54px;height:19.5px;background:#f6fafa;line-height:20.9px;text-align:center;font-size:14.67px;color:#595959;">77</div>
<div style="left:1080px;top:360.5px;width:54px;height:19.5px;background:#cce9d6;line-height:20.9px;text-align:center;font-size:14.67px;color:#595959;">72</div>
<div style="left:1134px;top:360.5px;width:53px;height:19.5px;background:#fbe0e3;line-height:20.9px;text-align:center;font-size:14.67px;color:#595959;">80</div>
<div style="left:1187px;top:360.5px;width:54px;height:19.5px;background:#f8696b;line-height:20.9px;text-align:center;font-size:14.67px;color:#595959;">86</div>
<div style="left:1241px;top:360.5px;width:54px;height:19.5px;background:#a6d9b5;line-height:20.9px;text-align:center;font-size:14.67px;color:#595959;">69</div>
<div style="left:1295px;top:360.5px;width:53px;height:19.5px;background:#fcedf0;line-height:20.9px;text-align:center;font-size:14.67px;color:#595959;">79</div>
<div style="left:1348px;top:360.5px;width:54px;height:19.5px;background:#63be7b;line-height:20.9px;text-align:center;font-size:14.67px;color:#595959;">59</div>
<div style="left:1402px;top:360.5px;width:80px;height:19.5px;background:#b9e1c5;line-height:20.9px;text-align:center;font-size:14.67px;color:#595959;">70</div>
<div style="left:1482px;top:360.5px;width:51px;height:19.5px;background:#fceaec;line-height:20.9px;text-align:center;font-size:14.67px;color:#595959;">79</div>
<div style="left:10px;top:380px;height:20px;line-height:21.4px;font-size:14.67px;color:#808080;letter-spacing:0.17px;">2025-09-01</div>
<div style="left:113.2px;width:60px;text-align:center;top:380px;height:20px;line-height:21.4px;font-size:14.67px;color:#7b2382;">80</div>
<div style="left:167.2px;width:60px;text-align:center;top:380px;height:20px;line-height:21.4px;font-size:14.67px;color:#808080;">64</div>
<div style="left:203.7px;width:60px;text-align:center;top:380px;height:20px;line-height:21.4px;font-size:14.67px;color:#808080;">89</div>
<div style="left:253.7px;width:60px;text-align:center;top:380px;height:20px;line-height:21.4px;font-size:14.67px;color:#808080;">72</div>
<div style="left:315.7px;width:60px;text-align:center;top:380px;height:20px;line-height:21.4px;font-size:14.67px;color:#808080;">73</div>
<div style="left:378.2px;width:60px;text-align:center;top:380px;height:20px;line-height:21.4px;font-size:14.67px;color:#000;">73</div>
<div style="left:439.7px;width:60px;text-align:center;top:380px;height:20px;line-height:21.4px;font-size:14.67px;color:#808080;">73</div>
<div style="left:502px;top:380px;width:53px;height:20px;background:#a6d9b5;line-height:21.4px;text-align:center;font-size:14.67px;color:#595959;">72</div>
<div style="left:555px;top:380px;width:53px;height:20px;background:#b9e1c5;line-height:21.4px;text-align:center;font-size:14.67px;color:#595959;">74</div>
<div style="left:608px;top:380px;width:54px;height:20px;background:#89ce9c;line-height:21.4px;text-align:center;font-size:14.67px;color:#595959;">69</div>
<div style="left:662px;top:380px;width:54px;height:20px;background:#9cd5ac;line-height:21.4px;text-align:center;font-size:14.67px;color:#595959;">71</div>
<div style="left:716px;top:380px;width:53px;height:20px;background:#9cd5ac;line-height:21.4px;text-align:center;font-size:14.67px;color:#595959;">71</div>
<div style="left:769px;top:380px;width:54px;height:20px;background:#c3e5ce;line-height:21.4px;text-align:center;font-size:14.67px;color:#595959;">75</div>
<div style="left:823px;top:380px;width:43px;height:20px;background:#89ce9c;line-height:21.4px;text-align:center;font-size:14.67px;color:#595959;">70</div>
<div style="left:866px;top:380px;width:51px;height:20px;background:#c3e5ce;line-height:21.4px;text-align:center;font-size:14.67px;color:#595959;">75</div>
<div style="left:917px;top:380px;width:56px;height:20px;background:#a6d9b5;line-height:21.4px;text-align:center;font-size:14.67px;color:#595959;">72</div>
<div style="left:973px;top:380px;width:53px;height:20px;background:#fac5c8;line-height:21.4px;text-align:center;font-size:14.67px;color:#595959;">83</div>
<div style="left:1026px;top:380px;width:54px;height:20px;background:#f2f8f7;line-height:21.4px;text-align:center;font-size:14.67px;color:#595959;">79</div>
<div style="left:1080px;top:380px;width:54px;height:20px;background:#9cd5ac;line-height:21.4px;text-align:center;font-size:14.67px;color:#595959;">71</div>
<div style="left:1134px;top:380px;width:53px;height:20px;background:#edf6f2;line-height:21.4px;text-align:center;font-size:14.67px;color:#595959;">79</div>
<div style="left:1187px;top:380px;width:54px;height:20px;background:#f8696b;line-height:21.4px;text-align:center;font-size:14.67px;color:#595959;">89</div>
<div style="left:1241px;top:380px;width:54px;height:20px;background:#9cd5ac;line-height:21.4px;text-align:center;font-size:14.67px;color:#595959;">71</div>
<div style="left:1295px;top:380px;width:53px;height:20px;background:#fcf8fb;line-height:21.4px;text-align:center;font-size:14.67px;color:#595959;">80</div>
<div style="left:1348px;top:380px;width:54px;height:20px;background:#63be7b;line-height:21.4px;text-align:center;font-size:14.67px;color:#595959;">64</div>
<div style="left:1402px;top:380px;width:80px;height:20px;background:#b9e1c5;line-height:21.4px;text-align:center;font-size:14.67px;color:#595959;">74</div>
<div style="left:1482px;top:380px;width:51px;height:20px;background:#edf6f2;line-height:21.4px;text-align:center;font-size:14.67px;color:#595959;">79</div>
<div style="left:10px;top:400px;height:20px;line-height:21.4px;font-size:14.67px;color:#808080;letter-spacing:0.17px;">2025-10-01</div>
<div style="left:113.2px;width:60px;text-align:center;top:400px;height:20px;line-height:21.4px;font-size:14.67px;color:#7b2382;">81</div>
<div style="left:167.2px;width:60px;text-align:center;top:400px;height:20px;line-height:21.4px;font-size:14.67px;color:#808080;">69</div>
<div style="left:203.7px;width:60px;text-align:center;top:400px;height:20px;line-height:21.4px;font-size:14.67px;color:#808080;">87</div>
<div style="left:253.7px;width:60px;text-align:center;top:400px;height:20px;line-height:21.4px;font-size:14.67px;color:#808080;">74</div>
<div style="left:315.7px;width:60px;text-align:center;top:400px;height:20px;line-height:21.4px;font-size:14.67px;color:#808080;">74</div>
<div style="left:378.2px;width:60px;text-align:center;top:400px;height:20px;line-height:21.4px;font-size:14.67px;color:#000;">75</div>
<div style="left:439.7px;width:60px;text-align:center;top:400px;height:20px;line-height:21.4px;font-size:14.67px;color:#808080;">74</div>
<div style="left:502px;top:400px;width:53px;height:20px;background:#76c68c;line-height:21.4px;text-align:center;font-size:14.67px;color:#595959;">71</div>
<div style="left:555px;top:400px;width:53px;height:20px;background:#b9e1c5;line-height:21.4px;text-align:center;font-size:14.67px;color:#595959;">76</div>
<div style="left:608px;top:400px;width:54px;height:20px;background:#89ce9c;line-height:21.4px;text-align:center;font-size:14.67px;color:#595959;">72</div>
<div style="left:662px;top:400px;width:54px;height:20px;background:#d6ecde;line-height:21.4px;text-align:center;font-size:14.67px;color:#595959;">77</div>
<div style="left:716px;top:400px;width:53px;height:20px;background:#9cd5ac;line-height:21.4px;text-align:center;font-size:14.67px;color:#595959;">73</div>
<div style="left:769px;top:400px;width:54px;height:20px;background:#b9e1c5;line-height:21.4px;text-align:center;font-size:14.67px;color:#595959;">76</div>
<div style="left:823px;top:400px;width:43px;height:20px;background:#63be7b;line-height:21.4px;text-align:center;font-size:14.67px;color:#595959;">69</div>
<div style="left:866px;top:400px;width:51px;height:20px;background:#b0ddbd;line-height:21.4px;text-align:center;font-size:14.67px;color:#595959;">75</div>
<div style="left:917px;top:400px;width:56px;height:20px;background:#a6d9b5;line-height:21.4px;text-align:center;font-size:14.67px;color:#595959;">74</div>
<div style="left:973px;top:400px;width:53px;height:20px;background:#f87b7e;line-height:21.4px;text-align:center;font-size:14.67px;color:#595959;">87</div>
<div style="left:1026px;top:400px;width:54px;height:20px;background:#f6fafa;line-height:21.4px;text-align:center;font-size:14.67px;color:#595959;">80</div>
<div style="left:1080px;top:400px;width:54px;height:20px;background:#76c68c;line-height:21.4px;text-align:center;font-size:14.67px;color:#595959;">71</div>
<div style="left:1134px;top:400px;width:53px;height:20px;background:#cce9d6;line-height:21.4px;text-align:center;font-size:14.67px;color:#595959;">77</div>
<div style="left:1187px;top:400px;width:54px;height:20px;background:#f87274;line-height:21.4px;text-align:center;font-size:14.67px;color:#595959;">87</div>
<div style="left:1241px;top:400px;width:54px;height:20px;background:#63be7b;line-height:21.4px;text-align:center;font-size:14.67px;color:#595959;">69</div>
<div style="left:1295px;top:400px;width:53px;height:20px;background:#fbe0e3;line-height:21.4px;text-align:center;font-size:14.67px;color:#595959;">82</div>
<div style="left:1348px;top:400px;width:54px;height:20px;background:#9cd5ac;line-height:21.4px;text-align:center;font-size:14.67px;color:#595959;">74</div>
<div style="left:1402px;top:400px;width:80px;height:20px;background:#a6d9b5;line-height:21.4px;text-align:center;font-size:14.67px;color:#595959;">75</div>
<div style="left:1482px;top:400px;width:51px;height:20px;background:#fcfafd;line-height:21.4px;text-align:center;font-size:14.67px;color:#595959;">81</div>
<div style="left:10px;top:420px;height:20px;line-height:21.4px;font-size:14.67px;color:#808080;letter-spacing:0.17px;">2025-11-01</div>
<div style="left:113.2px;width:60px;text-align:center;top:420px;height:20px;line-height:21.4px;font-size:14.67px;color:#7b2382;">78</div>
<div style="left:167.2px;width:60px;text-align:center;top:420px;height:20px;line-height:21.4px;font-size:14.67px;color:#808080;">64</div>
<div style="left:203.7px;width:60px;text-align:center;top:420px;height:20px;line-height:21.4px;font-size:14.67px;color:#808080;">85</div>
<div style="left:253.7px;width:60px;text-align:center;top:420px;height:20px;line-height:21.4px;font-size:14.67px;color:#808080;">73</div>
<div style="left:315.7px;width:60px;text-align:center;top:420px;height:20px;line-height:21.4px;font-size:14.67px;color:#808080;">73</div>
<div style="left:378.2px;width:60px;text-align:center;top:420px;height:20px;line-height:21.4px;font-size:14.67px;color:#000;">74</div>
<div style="left:439.7px;width:60px;text-align:center;top:420px;height:20px;line-height:21.4px;font-size:14.67px;color:#808080;">73</div>
<div style="left:502px;top:420px;width:53px;height:20px;background:#9cd5ac;line-height:21.4px;text-align:center;font-size:14.67px;color:#595959;">71</div>
<div style="left:555px;top:420px;width:53px;height:20px;background:#e9f4ee;line-height:21.4px;text-align:center;font-size:14.67px;color:#595959;">76</div>
<div style="left:608px;top:420px;width:54px;height:20px;background:#80ca94;line-height:21.4px;text-align:center;font-size:14.67px;color:#595959;">67</div>
<div style="left:662px;top:420px;width:54px;height:20px;background:#dff0e6;line-height:21.4px;text-align:center;font-size:14.67px;color:#595959;">75</div>
<div style="left:716px;top:420px;width:53px;height:20px;background:#e9f4ee;line-height:21.4px;text-align:center;font-size:14.67px;color:#595959;">76</div>
<div style="left:769px;top:420px;width:54px;height:20px;background:#b9e1c5;line-height:21.4px;text-align:center;font-size:14.67px;color:#595959;">73</div>
<div style="left:823px;top:420px;width:43px;height:20px;background:#b0ddbd;line-height:21.4px;text-align:center;font-size:14.67px;color:#595959;">72</div>
<div style="left:866px;top:420px;width:51px;height:20px;background:#9cd5ac;line-height:21.4px;text-align:center;font-size:14.67px;color:#595959;">70</div>
<div style="left:917px;top:420px;width:56px;height:20px;background:#a6d9b5;line-height:21.4px;text-align:center;font-size:14.67px;color:#595959;">71</div>
<div style="left:973px;top:420px;width:53px;height:20px;background:#f8696b;line-height:21.4px;text-align:center;font-size:14.67px;color:#595959;">85</div>
<div style="left:1026px;top:420px;width:54px;height:20px;background:#f4f9f8;line-height:21.4px;text-align:center;font-size:14.67px;color:#595959;">78</div>
<div style="left:1080px;top:420px;width:54px;height:20px;background:#93d1a4;line-height:21.4px;text-align:center;font-size:14.67px;color:#595959;">71</div>
<div style="left:1134px;top:420px;width:53px;height:20px;background:#fab2b5;line-height:21.4px;text-align:center;font-size:14.67px;color:#595959;">82</div>
<div style="left:1187px;top:420px;width:54px;height:20px;background:#f99799;line-height:21.4px;text-align:center;font-size:14.67px;color:#595959;">84</div>
<div style="left:1241px;top:420px;width:54px;height:20px;background:#63be7b;line-height:21.4px;text-align:center;font-size:14.67px;color:#595959;">64</div>
<div style="left:1295px;top:420px;width:53px;height:20px;background:#fab2b5;line-height:21.4px;text-align:center;font-size:14.67px;color:#595959;">82</div>
<div style="left:1348px;top:420px;width:54px;height:20px;background:#dff0e6;line-height:21.4px;text-align:center;font-size:14.67px;color:#595959;">76</div>
<div style="left:1402px;top:420px;width:80px;height:20px;background:#9cd5ac;line-height:21.4px;text-align:center;font-size:14.67px;color:#595959;">70</div>
<div style="left:1482px;top:420px;width:51px;height:20px;background:#faa0a2;line-height:21.4px;text-align:center;font-size:14.67px;color:#595959;">83</div>
<div style="left:10px;top:440px;height:20px;line-height:21.4px;font-size:14.67px;color:#808080;letter-spacing:0.17px;">2025-12-01</div>
<div style="left:113.2px;width:60px;text-align:center;top:440px;height:20px;line-height:21.4px;font-size:14.67px;color:#7b2382;">71</div>
<div style="left:167.2px;width:60px;text-align:center;top:440px;height:20px;line-height:21.4px;font-size:14.67px;color:#808080;">59</div>
<div style="left:203.7px;width:60px;text-align:center;top:440px;height:20px;line-height:21.4px;font-size:14.67px;color:#808080;">80</div>
<div style="left:253.7px;width:60px;text-align:center;top:440px;height:20px;line-height:21.4px;font-size:14.67px;color:#808080;">67</div>
<div style="left:315.7px;width:60px;text-align:center;top:440px;height:20px;line-height:21.4px;font-size:14.67px;color:#808080;">67</div>
<div style="left:378.2px;width:60px;text-align:center;top:440px;height:20px;line-height:21.4px;font-size:14.67px;color:#000;">68</div>
<div style="left:439.7px;width:60px;text-align:center;top:440px;height:20px;line-height:21.4px;font-size:14.67px;color:#808080;">67</div>
<div style="left:502px;top:440px;width:53px;height:20px;background:#c3e5ce;line-height:21.4px;text-align:center;font-size:14.67px;color:#595959;">67</div>
<div style="left:555px;top:440px;width:53px;height:20px;background:#d6ecde;line-height:21.4px;text-align:center;font-size:14.67px;color:#595959;">68</div>
<div style="left:608px;top:440px;width:54px;height:20px;background:#80ca94;line-height:21.4px;text-align:center;font-size:14.67px;color:#595959;">61</div>
<div style="left:662px;top:440px;width:54px;height:20px;background:#dff0e6;line-height:21.4px;text-align:center;font-size:14.67px;color:#595959;">69</div>
<div style="left:716px;top:440px;width:53px;height:20px;background:#fceff2;line-height:21.4px;text-align:center;font-size:14.67px;color:#595959;">72</div>
<div style="left:769px;top:440px;width:54px;height:20px;background:#b0ddbd;line-height:21.4px;text-align:center;font-size:14.67px;color:#595959;">66</div>
<div style="left:823px;top:440px;width:43px;height:20px;background:#a6d9b5;line-height:21.4px;text-align:center;font-size:14.67px;color:#595959;">65</div>
<div style="left:866px;top:440px;width:51px;height:20px;background:#b0ddbd;line-height:21.4px;text-align:center;font-size:14.67px;color:#595959;">66</div>
<div style="left:917px;top:440px;width:56px;height:20px;background:#89ce9c;line-height:21.4px;text-align:center;font-size:14.67px;color:#595959;">62</div>
<div style="left:973px;top:440px;width:53px;height:20px;background:#f87274;line-height:21.4px;text-align:center;font-size:14.67px;color:#595959;">80</div>
<div style="left:1026px;top:440px;width:54px;height:20px;background:#fcfafd;line-height:21.4px;text-align:center;font-size:14.67px;color:#595959;">71</div>
<div style="left:1080px;top:440px;width:54px;height:20px;background:#b9e1c5;line-height:21.4px;text-align:center;font-size:14.67px;color:#595959;">67</div>
<div style="left:1134px;top:440px;width:53px;height:20px;background:#fbced1;line-height:21.4px;text-align:center;font-size:14.67px;color:#595959;">75</div>
<div style="left:1187px;top:440px;width:54px;height:20px;background:#f87274;line-height:21.4px;text-align:center;font-size:14.67px;color:#595959;">80</div>
<div style="left:1241px;top:440px;width:54px;height:20px;background:#63be7b;line-height:21.4px;text-align:center;font-size:14.67px;color:#595959;">59</div>
<div style="left:1295px;top:440px;width:53px;height:20px;background:#fbced1;line-height:21.4px;text-align:center;font-size:14.67px;color:#595959;">75</div>
<div style="left:1348px;top:440px;width:54px;height:20px;background:#e9f4ee;line-height:21.4px;text-align:center;font-size:14.67px;color:#595959;">69</div>
<div style="left:1402px;top:440px;width:80px;height:20px;background:#89ce9c;line-height:21.4px;text-align:center;font-size:14.67px;color:#595959;">63</div>
<div style="left:1482px;top:440px;width:51px;height:20px;background:#f98587;line-height:21.4px;text-align:center;font-size:14.67px;color:#595959;">79</div>
<div style="left:7px;top:261.6px;width:1526px;height:1.4px;background:#000;"></div>
<div style="left:106px;top:221px;width:1.3px;height:239px;background:#000;"></div>
<div style="left:501.2px;top:221px;height:239px;width:1.1px;background:repeating-linear-gradient(180deg,#000 0 1px,transparent 1px 2px);"></div>
<div style="left:7px;top:340.6px;width:1526px;height:1.2px;background:repeating-linear-gradient(90deg,#000 0 3px,transparent 3px 4.4px);"></div>
<div style="left:7px;top:399.7px;width:1526px;height:1.2px;background:repeating-linear-gradient(90deg,#000 0 3px,transparent 3px 4.4px);"></div>
<div style="left:8px;top:499px;width:98px;height:21.299999999999955px;background:#f2f2f2;"></div>
<div style="left:108px;top:499px;width:392px;height:21.299999999999955px;background:#f2f2f2;"></div>
<div style="left:10px;top:499px;height:21.299999999999955px;line-height:26.299999999999955px;font-size:14.67px;font-weight:bold;color:#1f3864;">NO4</div>
<div style="left:233px;width:100px;text-align:center;top:480px;height:20px;line-height:20px;font-size:14.67px;color:#222;letter-spacing:0.6px;">Mean</div>
<div style="left:102.5px;width:80px;text-align:center;top:499px;height:21.299999999999955px;line-height:26.299999999999955px;font-size:14.67px;color:#7b2382;font-weight:bold;">Normal</div>
<div style="left:156.5px;width:80px;text-align:center;top:499px;height:21.299999999999955px;line-height:26.299999999999955px;font-size:14.67px;color:#222;letter-spacing:0.5px;">Min</div>
<div style="left:193px;width:80px;text-align:center;top:499px;height:21.299999999999955px;line-height:26.299999999999955px;font-size:14.67px;color:#222;letter-spacing:0.5px;">Max</div>
<div style="left:243px;width:80px;text-align:center;top:499px;height:21.299999999999955px;line-height:26.299999999999955px;font-size:14.67px;color:#8c8c8c;letter-spacing:0.5px;">80-21</div>
<div style="left:305px;width:80px;text-align:center;top:499px;height:21.299999999999955px;line-height:26.299999999999955px;font-size:14.67px;color:#8c8c8c;letter-spacing:0.5px;">90-21</div>
<div style="left:367.5px;width:80px;text-align:center;top:499px;height:21.299999999999955px;line-height:26.299999999999955px;font-size:14.67px;color:#000;font-weight:bold;">97-21</div>
<div style="left:429px;width:80px;text-align:center;top:499px;height:21.299999999999955px;line-height:26.299999999999955px;font-size:14.67px;color:#8c8c8c;letter-spacing:0.5px;">-NoGo</div>
<div style="left:608px;top:479px;width:54px;height:21px;background:#bfbfbf;line-height:22.5px;text-align:center;font-size:14.67px;color:#111;letter-spacing:0.3px;">NoGo</div>
<div style="left:662px;top:479px;width:54px;height:21px;background:#a6c9ec;line-height:22.5px;text-align:center;font-size:14.67px;color:#111;letter-spacing:0.35px;padding-right:5px;">Select</div>
<div style="left:502px;top:499px;width:53px;height:21.299999999999955px;line-height:25.799999999999955px;text-align:center;font-size:14.67px;color:#595959;">00</div>
<div style="left:555px;top:499px;width:53px;height:21.299999999999955px;line-height:25.799999999999955px;text-align:center;font-size:14.67px;color:#595959;">02</div>
<div style="left:608px;top:499px;width:54px;height:21.299999999999955px;background:#bfbfbf;line-height:23.799999999999955px;text-align:center;font-size:16.5px;color:#595959;">04</div>
<div style="left:662px;top:499px;width:54px;height:21.299999999999955px;background:#a6c9ec;line-height:25.799999999999955px;text-align:center;font-size:14.67px;color:#595959;">05</div>
<div style="left:716px;top:499px;width:53px;height:21.299999999999955px;background:#bfbfbf;line-height:23.799999999999955px;text-align:center;font-size:16.5px;color:#595959;">06</div>
<div style="left:769px;top:499px;width:55px;height:21.299999999999955px;background:#a6c9ec;line-height:23.799999999999955px;text-align:center;font-size:16.5px;color:#595959;">08</div>
<div style="left:823px;top:499px;width:43px;height:21.299999999999955px;line-height:25.799999999999955px;text-align:center;font-size:14.67px;color:#595959;">09</div>
<div style="left:866px;top:499px;width:51px;height:21.299999999999955px;background:#bfbfbf;line-height:25.799999999999955px;text-align:center;font-size:14.67px;color:#595959;">10</div>
<div style="left:917px;top:499px;width:56px;height:21.299999999999955px;line-height:25.799999999999955px;text-align:center;font-size:14.67px;color:#595959;">11</div>
<div style="left:973px;top:499px;width:53px;height:21.299999999999955px;line-height:23.799999999999955px;text-align:center;font-size:16.5px;color:#595959;">12</div>
<div style="left:1026px;top:499px;width:54px;height:21.299999999999955px;background:#bfbfbf;line-height:23.799999999999955px;text-align:center;font-size:16.5px;color:#595959;">13</div>
<div style="left:1080px;top:499px;width:54px;height:21.299999999999955px;background:#a6c9ec;line-height:23.799999999999955px;text-align:center;font-size:16.5px;color:#595959;">14</div>
<div style="left:1134px;top:499px;width:53px;height:21.299999999999955px;line-height:25.799999999999955px;text-align:center;font-size:14.67px;color:#595959;">15</div>
<div style="left:1187px;top:499px;width:54px;height:21.299999999999955px;line-height:23.799999999999955px;text-align:center;font-size:16.5px;color:#595959;">16</div>
<div style="left:1241px;top:499px;width:54px;height:21.299999999999955px;line-height:25.799999999999955px;text-align:center;font-size:14.67px;color:#595959;">17</div>
<div style="left:1295px;top:499px;width:53px;height:21.299999999999955px;line-height:25.799999999999955px;text-align:center;font-size:14.67px;color:#595959;">18</div>
<div style="left:1348px;top:499px;width:54px;height:21.299999999999955px;line-height:23.799999999999955px;text-align:center;font-size:16.5px;color:#595959;">19</div>
<div style="left:1402px;top:499px;width:80px;height:21.299999999999955px;line-height:25.799999999999955px;text-align:center;font-size:14.67px;color:#595959;">20</div>
<div style="left:1482px;top:499px;width:51px;height:21.299999999999955px;background:#bfbfbf;line-height:23.799999999999955px;text-align:center;font-size:16.5px;color:#595959;">21</div>
<div style="left:10px;top:521px;height:19.5px;line-height:20.9px;font-size:14.67px;color:#808080;letter-spacing:0.17px;">2025-03-01</div>
<div style="left:113.2px;width:60px;text-align:center;top:521px;height:19.5px;line-height:20.9px;font-size:14.67px;color:#7b2382;">48</div>
<div style="left:167.2px;width:60px;text-align:center;top:521px;height:19.5px;line-height:20.9px;font-size:14.67px;color:#808080;">63</div>
<div style="left:203.7px;width:60px;text-align:center;top:521px;height:19.5px;line-height:20.9px;font-size:14.67px;color:#808080;">66</div>
<div style="left:253.7px;width:60px;text-align:center;top:521px;height:19.5px;line-height:20.9px;font-size:14.67px;color:#808080;">64</div>
<div style="left:315.7px;width:60px;text-align:center;top:521px;height:19.5px;line-height:20.9px;font-size:14.67px;color:#808080;">64</div>
<div style="left:378.2px;width:60px;text-align:center;top:521px;height:19.5px;line-height:20.9px;font-size:14.67px;color:#000;">64</div>
<div style="left:439.7px;width:60px;text-align:center;top:521px;height:19.5px;line-height:20.9px;font-size:14.67px;color:#808080;">64</div>
<div style="left:502px;top:521px;width:53px;height:19.5px;background:#fcfcff;line-height:20.9px;text-align:center;font-size:14.67px;color:#000;">63</div>
<div style="left:555px;top:521px;width:53px;height:19.5px;background:#fcf8fb;line-height:20.9px;text-align:center;font-size:14.67px;color:#000;">63</div>
<div style="left:608px;top:521px;width:54px;height:19.5px;background:#fbe0e3;line-height:20.9px;text-align:center;font-size:14.67px;color:#000;">64</div>
<div style="left:662px;top:521px;width:54px;height:19.5px;background:#fbced1;line-height:20.9px;text-align:center;font-size:14.67px;color:#000;">64</div>
<div style="left:716px;top:521px;width:53px;height:19.5px;background:#fcfcff;line-height:20.9px;text-align:center;font-size:14.67px;color:#000;">63</div>
<div style="left:769px;top:521px;width:54px;height:19.5px;background:#fcf3f6;line-height:20.9px;text-align:center;font-size:14.67px;color:#8c8c8c;">63</div>
<div style="left:823px;top:521px;width:43px;height:19.5px;background:#fcf3f6;line-height:20.9px;text-align:center;font-size:14.67px;color:#8c8c8c;">63</div>
<div style="left:866px;top:521px;width:51px;height:19.5px;background:#fcf8fb;line-height:20.9px;text-align:center;font-size:14.67px;color:#000;">63</div>
<div style="left:917px;top:521px;width:56px;height:19.5px;background:#fceff2;line-height:20.9px;text-align:center;font-size:14.67px;color:#8c8c8c;">63</div>
<div style="left:973px;top:521px;width:53px;height:19.5px;background:#fbd7da;line-height:20.9px;text-align:center;font-size:14.67px;color:#000;">64</div>
<div style="left:1026px;top:521px;width:54px;height:19.5px;background:#fbe6e9;line-height:20.9px;text-align:center;font-size:14.67px;color:#000;">64</div>
<div style="left:1080px;top:521px;width:54px;height:19.5px;background:#fbced1;line-height:20.9px;text-align:center;font-size:14.67px;color:#000;">64</div>
<div style="left:1134px;top:521px;width:53px;height:19.5px;background:#f8696b;line-height:20.9px;text-align:center;font-size:14.67px;color:#8c8c8c;">66</div>
<div style="left:1187px;top:521px;width:54px;height:19.5px;background:#faa0a2;line-height:20.9px;text-align:center;font-size:14.67px;color:#000;">65</div>
<div style="left:1241px;top:521px;width:54px;height:19.5px;background:#fbe4e7;line-height:20.9px;text-align:center;font-size:14.67px;color:#000;">64</div>
<div style="left:1295px;top:521px;width:53px;height:19.5px;background:#fcf3f6;line-height:20.9px;text-align:center;font-size:14.67px;color:#000;">63</div>
<div style="left:1348px;top:521px;width:54px;height:19.5px;background:#fcf8fb;line-height:20.9px;text-align:center;font-size:14.67px;color:#000;">63</div>
<div style="left:1402px;top:521px;width:80px;height:19.5px;background:#f98587;line-height:20.9px;text-align:center;font-size:14.67px;color:#000;">66</div>
<div style="left:1482px;top:521px;width:51px;height:19.5px;background:#fbe6e9;line-height:20.9px;text-align:center;font-size:14.67px;color:#000;">63</div>
<div style="left:10px;top:540.5px;height:19.5px;line-height:20.9px;font-size:14.67px;color:#808080;letter-spacing:0.17px;">2025-04-01</div>
<div style="left:113.2px;width:60px;text-align:center;top:540.5px;height:19.5px;line-height:20.9px;font-size:14.67px;color:#7b2382;">42</div>
<div style="left:167.2px;width:60px;text-align:center;top:540.5px;height:19.5px;line-height:20.9px;font-size:14.67px;color:#808080;">51</div>
<div style="left:203.7px;width:60px;text-align:center;top:540.5px;height:19.5px;line-height:20.9px;font-size:14.67px;color:#808080;">57</div>
<div style="left:253.7px;width:60px;text-align:center;top:540.5px;height:19.5px;line-height:20.9px;font-size:14.67px;color:#808080;">52</div>
<div style="left:315.7px;width:60px;text-align:center;top:540.5px;height:19.5px;line-height:20.9px;font-size:14.67px;color:#808080;">52</div>
<div style="left:378.2px;width:60px;text-align:center;top:540.5px;height:19.5px;line-height:20.9px;font-size:14.67px;color:#000;">53</div>
<div style="left:439.7px;width:60px;text-align:center;top:540.5px;height:19.5px;line-height:20.9px;font-size:14.67px;color:#808080;">53</div>
<div style="left:502px;top:540.5px;width:53px;height:19.5px;background:#fceaec;line-height:20.9px;text-align:center;font-size:14.67px;color:#595959;">52</div>
<div style="left:555px;top:540.5px;width:53px;height:19.5px;background:#fcf8fb;line-height:20.9px;text-align:center;font-size:14.67px;color:#595959;">51</div>
<div style="left:608px;top:540.5px;width:54px;height:19.5px;background:#fbced1;line-height:20.9px;text-align:center;font-size:14.67px;color:#595959;">53</div>
<div style="left:662px;top:540.5px;width:54px;height:19.5px;background:#fbced1;line-height:20.9px;text-align:center;font-size:14.67px;color:#595959;">53</div>
<div style="left:716px;top:540.5px;width:53px;height:19.5px;background:#fceaec;line-height:20.9px;text-align:center;font-size:14.67px;color:#595959;">52</div>
<div style="left:769px;top:540.5px;width:54px;height:19.5px;background:#fbd7da;line-height:20.9px;text-align:center;font-size:14.67px;color:#595959;">53</div>
<div style="left:823px;top:540.5px;width:43px;height:19.5px;background:#fcf6f9;line-height:20.9px;text-align:center;font-size:14.67px;color:#595959;">51</div>
<div style="left:866px;top:540.5px;width:51px;height:19.5px;background:#fceaec;line-height:20.9px;text-align:center;font-size:14.67px;color:#595959;">52</div>
<div style="left:917px;top:540.5px;width:56px;height:19.5px;background:#fcedf0;line-height:20.9px;text-align:center;font-size:14.67px;color:#595959;">52</div>
<div style="left:973px;top:540.5px;width:53px;height:19.5px;background:#fbced1;line-height:20.9px;text-align:center;font-size:14.67px;color:#595959;">53</div>
<div style="left:1026px;top:540.5px;width:54px;height:19.5px;background:#fbe0e3;line-height:20.9px;text-align:center;font-size:14.67px;color:#595959;">52</div>
<div style="left:1080px;top:540.5px;width:54px;height:19.5px;background:#fbdbde;line-height:20.9px;text-align:center;font-size:14.67px;color:#595959;">52</div>
<div style="left:1134px;top:540.5px;width:53px;height:19.5px;background:#f8696b;line-height:20.9px;text-align:center;font-size:14.67px;color:#595959;">57</div>
<div style="left:1187px;top:540.5px;width:54px;height:19.5px;background:#f99799;line-height:20.9px;text-align:center;font-size:14.67px;color:#595959;">55</div>
<div style="left:1241px;top:540.5px;width:54px;height:19.5px;background:#fac5c8;line-height:20.9px;text-align:center;font-size:14.67px;color:#595959;">53</div>
<div style="left:1295px;top:540.5px;width:53px;height:19.5px;background:#fbd2d4;line-height:20.9px;text-align:center;font-size:14.67px;color:#595959;">53</div>
<div style="left:1348px;top:540.5px;width:54px;height:19.5px;background:#fcedf0;line-height:20.9px;text-align:center;font-size:14.67px;color:#595959;">52</div>
<div style="left:1402px;top:540.5px;width:80px;height:19.5px;background:#f87274;line-height:20.9px;text-align:center;font-size:14.67px;color:#595959;">57</div>
<div style="left:1482px;top:540.5px;width:51px;height:19.5px;background:#fbe4e7;line-height:20.9px;text-align:center;font-size:14.67px;color:#595959;">52</div>
<div style="left:10px;top:560px;height:20px;line-height:21.4px;font-size:14.67px;color:#808080;letter-spacing:0.17px;">2025-05-01</div>
<div style="left:113.2px;width:60px;text-align:center;top:560px;height:20px;line-height:21.4px;font-size:14.67px;color:#7b2382;">43</div>
<div style="left:167.2px;width:60px;text-align:center;top:560px;height:20px;line-height:21.4px;font-size:14.67px;color:#808080;">44</div>
<div style="left:203.7px;width:60px;text-align:center;top:560px;height:20px;line-height:21.4px;font-size:14.67px;color:#808080;">56</div>
<div style="left:253.7px;width:60px;text-align:center;top:560px;height:20px;line-height:21.4px;font-size:14.67px;color:#808080;">45</div>
<div style="left:315.7px;width:60px;text-align:center;top:560px;height:20px;line-height:21.4px;font-size:14.67px;color:#808080;">46</div>
<div style="left:378.2px;width:60px;text-align:center;top:560px;height:20px;line-height:21.4px;font-size:14.67px;color:#000;">46</div>
<div style="left:439.7px;width:60px;text-align:center;top:560px;height:20px;line-height:21.4px;font-size:14.67px;color:#808080;">46</div>
<div style="left:502px;top:560px;width:53px;height:20px;background:#cce9d6;line-height:21.4px;text-align:center;font-size:14.67px;color:#595959;">43</div>
<div style="left:555px;top:560px;width:53px;height:20px;background:#fcf3f6;line-height:21.4px;text-align:center;font-size:14.67px;color:#595959;">44</div>
<div style="left:608px;top:560px;width:54px;height:20px;background:#fbd7da;line-height:21.4px;text-align:center;font-size:14.67px;color:#595959;">47</div>
<div style="left:662px;top:560px;width:54px;height:20px;background:#fab2b5;line-height:21.4px;text-align:center;font-size:14.67px;color:#595959;">50</div>
<div style="left:716px;top:560px;width:53px;height:20px;background:#fcf6f9;line-height:21.4px;text-align:center;font-size:14.67px;color:#595959;">44</div>
<div style="left:769px;top:560px;width:54px;height:20px;background:#fbdbde;line-height:21.4px;text-align:center;font-size:14.67px;color:#595959;">46</div>
<div style="left:823px;top:560px;width:43px;height:20px;background:#fcf3f6;line-height:21.4px;text-align:center;font-size:14.67px;color:#595959;">44</div>
<div style="left:866px;top:560px;width:51px;height:20px;background:#fbd2d4;line-height:21.4px;text-align:center;font-size:14.67px;color:#595959;">47</div>
<div style="left:917px;top:560px;width:56px;height:20px;background:#fceaec;line-height:21.4px;text-align:center;font-size:14.67px;color:#595959;">45</div>
<div style="left:973px;top:560px;width:53px;height:20px;background:#fbced1;line-height:21.4px;text-align:center;font-size:14.67px;color:#595959;">47</div>
<div style="left:1026px;top:560px;width:54px;height:20px;background:#fcf3f6;line-height:21.4px;text-align:center;font-size:14.67px;color:#595959;">44</div>
<div style="left:1080px;top:560px;width:54px;height:20px;background:#fbced1;line-height:21.4px;text-align:center;font-size:14.67px;color:#595959;">47</div>
<div style="left:1134px;top:560px;width:53px;height:20px;background:#faa9ac;line-height:21.4px;text-align:center;font-size:14.67px;color:#595959;">50</div>
<div style="left:1187px;top:560px;width:54px;height:20px;background:#fab2b5;line-height:21.4px;text-align:center;font-size:14.67px;color:#595959;">49</div>
<div style="left:1241px;top:560px;width:54px;height:20px;background:#fab6b9;line-height:21.4px;text-align:center;font-size:14.67px;color:#595959;">49</div>
<div style="left:1295px;top:560px;width:53px;height:20px;background:#fcf3f6;line-height:21.4px;text-align:center;font-size:14.67px;color:#595959;">44</div>
<div style="left:1348px;top:560px;width:54px;height:20px;background:#faa0a2;line-height:21.4px;text-align:center;font-size:14.67px;color:#595959;">51</div>
<div style="left:1402px;top:560px;width:80px;height:20px;background:#f8696b;line-height:21.4px;text-align:center;font-size:14.67px;color:#595959;">56</div>
<div style="left:1482px;top:560px;width:51px;height:20px;background:#63be7b;line-height:21.4px;text-align:center;font-size:14.67px;color:#595959;">42</div>
<div style="left:10px;top:580px;height:19.5px;line-height:20.9px;font-size:14.67px;color:#808080;letter-spacing:0.17px;">2025-06-01</div>
<div style="left:113.2px;width:60px;text-align:center;top:580px;height:19.5px;line-height:20.9px;font-size:14.67px;color:#7b2382;">57</div>
<div style="left:167.2px;width:60px;text-align:center;top:580px;height:19.5px;line-height:20.9px;font-size:14.67px;color:#808080;">48</div>
<div style="left:203.7px;width:60px;text-align:center;top:580px;height:19.5px;line-height:20.9px;font-size:14.67px;color:#808080;">68</div>
<div style="left:253.7px;width:60px;text-align:center;top:580px;height:19.5px;line-height:20.9px;font-size:14.67px;color:#808080;">53</div>
<div style="left:315.7px;width:60px;text-align:center;top:580px;height:19.5px;line-height:20.9px;font-size:14.67px;color:#808080;">54</div>
<div style="left:378.2px;width:60px;text-align:center;top:580px;height:19.5px;line-height:20.9px;font-size:14.67px;color:#000;">55</div>
<div style="left:439.7px;width:60px;text-align:center;top:580px;height:19.5px;line-height:20.9px;font-size:14.67px;color:#808080;">54</div>
<div style="left:502px;top:580px;width:53px;height:19.5px;background:#9cd5ac;line-height:20.9px;text-align:center;font-size:14.67px;color:#595959;">51</div>
<div style="left:555px;top:580px;width:53px;height:19.5px;background:#63be7b;line-height:20.9px;text-align:center;font-size:14.67px;color:#595959;">48</div>
<div style="left:608px;top:580px;width:54px;height:19.5px;background:#e5f3eb;line-height:20.9px;text-align:center;font-size:14.67px;color:#595959;">55</div>
<div style="left:662px;top:580px;width:54px;height:19.5px;background:#9cd5ac;line-height:20.9px;text-align:center;font-size:14.67px;color:#595959;">51</div>
<div style="left:716px;top:580px;width:53px;height:19.5px;background:#93d1a4;line-height:20.9px;text-align:center;font-size:14.67px;color:#595959;">51</div>
<div style="left:769px;top:580px;width:54px;height:19.5px;background:#d6ecde;line-height:20.9px;text-align:center;font-size:14.67px;color:#595959;">55</div>
<div style="left:823px;top:580px;width:43px;height:19.5px;background:#89ce9c;line-height:20.9px;text-align:center;font-size:14.67px;color:#595959;">50</div>
<div style="left:866px;top:580px;width:51px;height:19.5px;background:#c3e5ce;line-height:20.9px;text-align:center;font-size:14.67px;color:#595959;">54</div>
<div style="left:917px;top:580px;width:56px;height:19.5px;background:#b0ddbd;line-height:20.9px;text-align:center;font-size:14.67px;color:#595959;">53</div>
<div style="left:973px;top:580px;width:53px;height:19.5px;background:#fac5c8;line-height:20.9px;text-align:center;font-size:14.67px;color:#595959;">61</div>
<div style="left:1026px;top:580px;width:54px;height:19.5px;background:#6dc283;line-height:20.9px;text-align:center;font-size:14.67px;color:#595959;">49</div>
<div style="left:1080px;top:580px;width:54px;height:19.5px;background:#f87274;line-height:20.9px;text-align:center;font-size:14.67px;color:#595959;">68</div>
<div style="left:1134px;top:580px;width:53px;height:19.5px;background:#fab2b5;line-height:20.9px;text-align:center;font-size:14.67px;color:#595959;">62</div>
<div style="left:1187px;top:580px;width:54px;height:19.5px;background:#dff0e6;line-height:20.9px;text-align:center;font-size:14.67px;color:#595959;">55</div>
<div style="left:1241px;top:580px;width:54px;height:19.5px;background:#fcfcff;line-height:20.9px;text-align:center;font-size:14.67px;color:#595959;">57</div>
<div style="left:1295px;top:580px;width:53px;height:19.5px;background:#80ca94;line-height:20.9px;text-align:center;font-size:14.67px;color:#595959;">50</div>
<div style="left:1348px;top:580px;width:54px;height:19.5px;background:#fab2b5;line-height:20.9px;text-align:center;font-size:14.67px;color:#595959;">62</div>
<div style="left:1402px;top:580px;width:80px;height:19.5px;background:#f98e90;line-height:20.9px;text-align:center;font-size:14.67px;color:#595959;">65</div>
<div style="left:1482px;top:580px;width:51px;height:19.5px;background:#76c68c;line-height:20.9px;text-align:center;font-size:14.67px;color:#595959;">49</div>
<div style="left:10px;top:599.5px;height:19.5px;line-height:20.9px;font-size:14.67px;color:#808080;letter-spacing:0.17px;">2025-07-01</div>
<div style="left:113.2px;width:60px;text-align:center;top:599.5px;height:19.5px;line-height:20.9px;font-size:14.67px;color:#7b2382;">72</div>
<div style="left:167.2px;width:60px;text-align:center;top:599.5px;height:19.5px;line-height:20.9px;font-size:14.67px;color:#808080;">65</div>
<div style="left:203.7px;width:60px;text-align:center;top:599.5px;height:19.5px;line-height:20.9px;font-size:14.67px;color:#808080;">82</div>
<div style="left:253.7px;width:60px;text-align:center;top:599.5px;height:19.5px;line-height:20.9px;font-size:14.67px;color:#808080;">69</div>
<div style="left:315.7px;width:60px;text-align:center;top:599.5px;height:19.5px;line-height:20.9px;font-size:14.67px;color:#808080;">70</div>
<div style="left:378.2px;width:60px;text-align:center;top:599.5px;height:19.5px;line-height:20.9px;font-size:14.67px;color:#000;">71</div>
<div style="left:439.7px;width:60px;text-align:center;top:599.5px;height:19.5px;line-height:20.9px;font-size:14.67px;color:#808080;">71</div>
<div style="left:502px;top:599.5px;width:53px;height:19.5px;background:#fcfafd;line-height:20.9px;text-align:center;font-size:14.67px;color:#595959;">72</div>
<div style="left:555px;top:599.5px;width:53px;height:19.5px;background:#93d1a4;line-height:20.9px;text-align:center;font-size:14.67px;color:#595959;">68</div>
<div style="left:608px;top:599.5px;width:54px;height:19.5px;background:#fcedf0;line-height:20.9px;text-align:center;font-size:14.67px;color:#595959;">73</div>
<div style="left:662px;top:599.5px;width:54px;height:19.5px;background:#9cd5ac;line-height:20.9px;text-align:center;font-size:14.67px;color:#595959;">68</div>
<div style="left:716px;top:599.5px;width:53px;height:19.5px;background:#fbdbde;line-height:20.9px;text-align:center;font-size:14.67px;color:#595959;">74</div>
<div style="left:769px;top:599.5px;width:54px;height:19.5px;background:#fcf6f9;line-height:20.9px;text-align:center;font-size:14.67px;color:#595959;">72</div>
<div style="left:823px;top:599.5px;width:43px;height:19.5px;background:#63be7b;line-height:20.9px;text-align:center;font-size:14.67px;color:#595959;">65</div>
<div style="left:866px;top:599.5px;width:51px;height:19.5px;background:#89ce9c;line-height:20.9px;text-align:center;font-size:14.67px;color:#595959;">67</div>
<div style="left:917px;top:599.5px;width:56px;height:19.5px;background:#dff0e6;line-height:20.9px;text-align:center;font-size:14.67px;color:#595959;">71</div>
<div style="left:973px;top:599.5px;width:53px;height:19.5px;background:#faa0a2;line-height:20.9px;text-align:center;font-size:14.67px;color:#595959;">78</div>
<div style="left:1026px;top:599.5px;width:54px;height:19.5px;background:#89ce9c;line-height:20.9px;text-align:center;font-size:14.67px;color:#595959;">67</div>
<div style="left:1080px;top:599.5px;width:54px;height:19.5px;background:#f8696b;line-height:20.9px;text-align:center;font-size:14.67px;color:#595959;">82</div>
<div style="left:1134px;top:599.5px;width:53px;height:19.5px;background:#f99799;line-height:20.9px;text-align:center;font-size:14.67px;color:#595959;">79</div>
<div style="left:1187px;top:599.5px;width:54px;height:19.5px;background:#cce9d6;line-height:20.9px;text-align:center;font-size:14.67px;color:#595959;">70</div>
<div style="left:1241px;top:599.5px;width:54px;height:19.5px;background:#a6d9b5;line-height:20.9px;text-align:center;font-size:14.67px;color:#595959;">68</div>
<div style="left:1295px;top:599.5px;width:53px;height:19.5px;background:#9cd5ac;line-height:20.9px;text-align:center;font-size:14.67px;color:#595959;">68</div>
<div style="left:1348px;top:599.5px;width:54px;height:19.5px;background:#dff0e6;line-height:20.9px;text-align:center;font-size:14.67px;color:#595959;">71</div>
<div style="left:1402px;top:599.5px;width:80px;height:19.5px;background:#fbced1;line-height:20.9px;text-align:center;font-size:14.67px;color:#595959;">75</div>
<div style="left:1482px;top:599.5px;width:51px;height:19.5px;background:#b9e1c5;line-height:20.9px;text-align:center;font-size:14.67px;color:#595959;">69</div>
<div style="left:10px;top:619px;height:20px;line-height:21.4px;font-size:14.67px;color:#808080;letter-spacing:0.17px;">2025-08-01</div>
<div style="left:113.2px;width:60px;text-align:center;top:619px;height:20px;line-height:21.4px;font-size:14.67px;color:#7b2382;">79</div>
<div style="left:167.2px;width:60px;text-align:center;top:619px;height:20px;line-height:21.4px;font-size:14.67px;color:#808080;">72</div>
<div style="left:203.7px;width:60px;text-align:center;top:619px;height:20px;line-height:21.4px;font-size:14.67px;color:#808080;">92</div>
<div style="left:253.7px;width:60px;text-align:center;top:619px;height:20px;line-height:21.4px;font-size:14.67px;color:#808080;">78</div>
<div style="left:315.7px;width:60px;text-align:center;top:619px;height:20px;line-height:21.4px;font-size:14.67px;color:#808080;">79</div>
<div style="left:378.2px;width:60px;text-align:center;top:619px;height:20px;line-height:21.4px;font-size:14.67px;color:#000;">80</div>
<div style="left:439.7px;width:60px;text-align:center;top:619px;height:20px;line-height:21.4px;font-size:14.67px;color:#808080;">80</div>
<div style="left:502px;top:619px;width:53px;height:20px;background:#fcf3f6;line-height:21.4px;text-align:center;font-size:14.67px;color:#595959;">79</div>
<div style="left:555px;top:619px;width:53px;height:20px;background:#fcf5f8;line-height:21.4px;text-align:center;font-size:14.67px;color:#595959;">79</div>
<div style="left:608px;top:619px;width:54px;height:20px;background:#fbced1;line-height:21.4px;text-align:center;font-size:14.67px;color:#595959;">82</div>
<div style="left:662px;top:619px;width:54px;height:20px;background:#fcf8fb;line-height:21.4px;text-align:center;font-size:14.67px;color:#595959;">79</div>
<div style="left:716px;top:619px;width:53px;height:20px;background:#fbe6e9;line-height:21.4px;text-align:center;font-size:14.67px;color:#595959;">81</div>
<div style="left:769px;top:619px;width:54px;height:20px;background:#fcedf0;line-height:21.4px;text-align:center;font-size:14.67px;color:#595959;">80</div>
<div style="left:823px;top:619px;width:43px;height:20px;background:#63be7b;line-height:21.4px;text-align:center;font-size:14.67px;color:#595959;">72</div>
<div style="left:866px;top:619px;width:51px;height:20px;background:#b9e1c5;line-height:21.4px;text-align:center;font-size:14.67px;color:#595959;">76</div>
<div style="left:917px;top:619px;width:56px;height:20px;background:#fbd7da;line-height:21.4px;text-align:center;font-size:14.67px;color:#595959;">82</div>
<div style="left:973px;top:619px;width:53px;height:20px;background:#fac5c8;line-height:21.4px;text-align:center;font-size:14.67px;color:#595959;">83</div>
<div style="left:1026px;top:619px;width:54px;height:20px;background:#f6fafa;line-height:21.4px;text-align:center;font-size:14.67px;color:#595959;">78</div>
<div style="left:1080px;top:619px;width:54px;height:20px;background:#faa9ac;line-height:21.4px;text-align:center;font-size:14.67px;color:#595959;">86</div>
<div style="left:1134px;top:619px;width:53px;height:20px;background:#f8696b;line-height:21.4px;text-align:center;font-size:14.67px;color:#595959;">92</div>
<div style="left:1187px;top:619px;width:54px;height:20px;background:#faa9ac;line-height:21.4px;text-align:center;font-size:14.67px;color:#595959;">85</div>
<div style="left:1241px;top:619px;width:54px;height:20px;background:#b0ddbd;line-height:21.4px;text-align:center;font-size:14.67px;color:#595959;">75</div>
<div style="left:1295px;top:619px;width:53px;height:20px;background:#fbe0e3;line-height:21.4px;text-align:center;font-size:14.67px;color:#595959;">81</div>
<div style="left:1348px;top:619px;width:54px;height:20px;background:#fcedf0;line-height:21.4px;text-align:center;font-size:14.67px;color:#595959;">80</div>
<div style="left:1402px;top:619px;width:80px;height:20px;background:#fceaec;line-height:21.4px;text-align:center;font-size:14.67px;color:#595959;">80</div>
<div style="left:1482px;top:619px;width:51px;height:20px;background:#fcedf0;line-height:21.4px;text-align:center;font-size:14.67px;color:#595959;">80</div>
<div style="left:10px;top:639px;height:19.5px;line-height:20.9px;font-size:14.67px;color:#808080;letter-spacing:0.17px;">2025-09-01</div>
<div style="left:113.2px;width:60px;text-align:center;top:639px;height:19.5px;line-height:20.9px;font-size:14.67px;color:#7b2382;">80</div>
<div style="left:167.2px;width:60px;text-align:center;top:639px;height:19.5px;line-height:20.9px;font-size:14.67px;color:#808080;">68</div>
<div style="left:203.7px;width:60px;text-align:center;top:639px;height:19.5px;line-height:20.9px;font-size:14.67px;color:#808080;">90</div>
<div style="left:253.7px;width:60px;text-align:center;top:639px;height:19.5px;line-height:20.9px;font-size:14.67px;color:#808080;">77</div>
<div style="left:315.7px;width:60px;text-align:center;top:639px;height:19.5px;line-height:20.9px;font-size:14.67px;color:#808080;">79</div>
<div style="left:378.2px;width:60px;text-align:center;top:639px;height:19.5px;line-height:20.9px;font-size:14.67px;color:#000;">80</div>
<div style="left:439.7px;width:60px;text-align:center;top:639px;height:19.5px;line-height:20.9px;font-size:14.67px;color:#808080;">79</div>
<div style="left:502px;top:639px;width:53px;height:19.5px;background:#fcf3f6;line-height:20.9px;text-align:center;font-size:14.67px;color:#595959;">81</div>
<div style="left:555px;top:639px;width:53px;height:19.5px;background:#fbdbde;line-height:20.9px;text-align:center;font-size:14.67px;color:#595959;">82</div>
<div style="left:608px;top:639px;width:54px;height:19.5px;background:#fcf3f6;line-height:20.9px;text-align:center;font-size:14.67px;color:#595959;">81</div>
<div style="left:662px;top:639px;width:54px;height:19.5px;background:#fcfafd;line-height:20.9px;text-align:center;font-size:14.67px;color:#595959;">80</div>
<div style="left:716px;top:639px;width:53px;height:19.5px;background:#fabcbe;line-height:20.9px;text-align:center;font-size:14.67px;color:#595959;">84</div>
<div style="left:769px;top:639px;width:54px;height:19.5px;background:#dff0e6;line-height:20.9px;text-align:center;font-size:14.67px;color:#595959;">78</div>
<div style="left:823px;top:639px;width:43px;height:19.5px;background:#63be7b;line-height:20.9px;text-align:center;font-size:14.67px;color:#595959;">68</div>
<div style="left:866px;top:639px;width:51px;height:19.5px;background:#d6ecde;line-height:20.9px;text-align:center;font-size:14.67px;color:#595959;">77</div>
<div style="left:917px;top:639px;width:56px;height:19.5px;background:#e9f4ee;line-height:20.9px;text-align:center;font-size:14.67px;color:#595959;">79</div>
<div style="left:973px;top:639px;width:53px;height:19.5px;background:#fceaec;line-height:20.9px;text-align:center;font-size:14.67px;color:#595959;">81</div>
<div style="left:1026px;top:639px;width:54px;height:19.5px;background:#f6fafa;line-height:20.9px;text-align:center;font-size:14.67px;color:#595959;">80</div>
<div style="left:1080px;top:639px;width:54px;height:19.5px;background:#fabcbe;line-height:20.9px;text-align:center;font-size:14.67px;color:#595959;">83</div>
<div style="left:1134px;top:639px;width:53px;height:19.5px;background:#f8696b;line-height:20.9px;text-align:center;font-size:14.67px;color:#595959;">90</div>
<div style="left:1187px;top:639px;width:54px;height:19.5px;background:#f8696b;line-height:20.9px;text-align:center;font-size:14.67px;color:#595959;">89</div>
<div style="left:1241px;top:639px;width:54px;height:19.5px;background:#b9e1c5;line-height:20.9px;text-align:center;font-size:14.67px;color:#595959;">75</div>
<div style="left:1295px;top:639px;width:53px;height:19.5px;background:#fbd7da;line-height:20.9px;text-align:center;font-size:14.67px;color:#595959;">82</div>
<div style="left:1348px;top:639px;width:54px;height:19.5px;background:#e9f4ee;line-height:20.9px;text-align:center;font-size:14.67px;color:#595959;">79</div>
<div style="left:1402px;top:639px;width:80px;height:19.5px;background:#fbe6e9;line-height:20.9px;text-align:center;font-size:14.67px;color:#595959;">82</div>
<div style="left:1482px;top:639px;width:51px;height:19.5px;background:#f4f9f8;line-height:20.9px;text-align:center;font-size:14.67px;color:#595959;">79</div>
<div style="left:10px;top:658.5px;height:19.799999999999955px;line-height:21.199999999999953px;font-size:14.67px;color:#808080;letter-spacing:0.17px;">2025-10-01</div>
<div style="left:113.2px;width:60px;text-align:center;top:658.5px;height:19.799999999999955px;line-height:21.199999999999953px;font-size:14.67px;color:#7b2382;">81</div>
<div style="left:167.2px;width:60px;text-align:center;top:658.5px;height:19.799999999999955px;line-height:21.199999999999953px;font-size:14.67px;color:#808080;">66</div>
<div style="left:203.7px;width:60px;text-align:center;top:658.5px;height:19.799999999999955px;line-height:21.199999999999953px;font-size:14.67px;color:#808080;">90</div>
<div style="left:253.7px;width:60px;text-align:center;top:658.5px;height:19.799999999999955px;line-height:21.199999999999953px;font-size:14.67px;color:#808080;">75</div>
<div style="left:315.7px;width:60px;text-align:center;top:658.5px;height:19.799999999999955px;line-height:21.199999999999953px;font-size:14.67px;color:#808080;">76</div>
<div style="left:378.2px;width:60px;text-align:center;top:658.5px;height:19.799999999999955px;line-height:21.199999999999953px;font-size:14.67px;color:#000;">77</div>
<div style="left:439.7px;width:60px;text-align:center;top:658.5px;height:19.799999999999955px;line-height:21.199999999999953px;font-size:14.67px;color:#808080;">77</div>
<div style="left:502px;top:658.5px;width:53px;height:19.799999999999955px;background:#c3e5ce;line-height:21.199999999999953px;text-align:center;font-size:14.67px;color:#595959;">76</div>
<div style="left:555px;top:658.5px;width:53px;height:19.799999999999955px;background:#d2ebdb;line-height:21.199999999999953px;text-align:center;font-size:14.67px;color:#595959;">77</div>
<div style="left:608px;top:658.5px;width:54px;height:19.799999999999955px;background:#e5f3eb;line-height:21.199999999999953px;text-align:center;font-size:14.67px;color:#595959;">79</div>
<div style="left:662px;top:658.5px;width:54px;height:19.799999999999955px;background:#d6ecde;line-height:21.199999999999953px;text-align:center;font-size:14.67px;color:#595959;">78</div>
<div style="left:716px;top:658.5px;width:53px;height:19.799999999999955px;background:#faa9ac;line-height:21.199999999999953px;text-align:center;font-size:14.67px;color:#595959;">86</div>
<div style="left:769px;top:658.5px;width:54px;height:19.799999999999955px;background:#c3e5ce;line-height:21.199999999999953px;text-align:center;font-size:14.67px;color:#595959;">76</div>
<div style="left:823px;top:658.5px;width:43px;height:19.799999999999955px;background:#63be7b;line-height:21.199999999999953px;text-align:center;font-size:14.67px;color:#595959;">66</div>
<div style="left:866px;top:658.5px;width:51px;height:19.799999999999955px;background:#d2ebdb;line-height:21.199999999999953px;text-align:center;font-size:14.67px;color:#595959;">77</div>
<div style="left:917px;top:658.5px;width:56px;height:19.799999999999955px;background:#b0ddbd;line-height:21.199999999999953px;text-align:center;font-size:14.67px;color:#595959;">74</div>
<div style="left:973px;top:658.5px;width:53px;height:19.799999999999955px;background:#f4f9f8;line-height:21.199999999999953px;text-align:center;font-size:14.67px;color:#595959;">80</div>
<div style="left:1026px;top:658.5px;width:54px;height:19.799999999999955px;background:#cce9d6;line-height:21.199999999999953px;text-align:center;font-size:14.67px;color:#595959;">76</div>
<div style="left:1080px;top:658.5px;width:54px;height:19.799999999999955px;background:#e9f4ee;line-height:21.199999999999953px;text-align:center;font-size:14.67px;color:#595959;">79</div>
<div style="left:1134px;top:658.5px;width:53px;height:19.799999999999955px;background:#fab2b5;line-height:21.199999999999953px;text-align:center;font-size:14.67px;color:#595959;">86</div>
<div style="left:1187px;top:658.5px;width:54px;height:19.799999999999955px;background:#f8696b;line-height:21.199999999999953px;text-align:center;font-size:14.67px;color:#595959;">90</div>
<div style="left:1241px;top:658.5px;width:54px;height:19.799999999999955px;background:#9cd5ac;line-height:21.199999999999953px;text-align:center;font-size:14.67px;color:#595959;">72</div>
<div style="left:1295px;top:658.5px;width:53px;height:19.799999999999955px;background:#d6ecde;line-height:21.199999999999953px;text-align:center;font-size:14.67px;color:#595959;">77</div>
<div style="left:1348px;top:658.5px;width:54px;height:19.799999999999955px;background:#f8fafc;line-height:21.199999999999953px;text-align:center;font-size:14.67px;color:#595959;">80</div>
<div style="left:1402px;top:658.5px;width:80px;height:19.799999999999955px;background:#c3e5ce;line-height:21.199999999999953px;text-align:center;font-size:14.67px;color:#595959;">76</div>
<div style="left:1482px;top:658.5px;width:51px;height:19.799999999999955px;background:#d6ecde;line-height:21.199999999999953px;text-align:center;font-size:14.67px;color:#595959;">77</div>
<div style="left:10px;top:678.3px;height:19.700000000000045px;line-height:21.100000000000044px;font-size:14.67px;color:#808080;letter-spacing:0.17px;">2025-11-01</div>
<div style="left:113.2px;width:60px;text-align:center;top:678.3px;height:19.700000000000045px;line-height:21.100000000000044px;font-size:14.67px;color:#7b2382;">77</div>
<div style="left:167.2px;width:60px;text-align:center;top:678.3px;height:19.700000000000045px;line-height:21.100000000000044px;font-size:14.67px;color:#808080;">61</div>
<div style="left:203.7px;width:60px;text-align:center;top:678.3px;height:19.700000000000045px;line-height:21.100000000000044px;font-size:14.67px;color:#808080;">87</div>
<div style="left:253.7px;width:60px;text-align:center;top:678.3px;height:19.700000000000045px;line-height:21.100000000000044px;font-size:14.67px;color:#808080;">69</div>
<div style="left:315.7px;width:60px;text-align:center;top:678.3px;height:19.700000000000045px;line-height:21.100000000000044px;font-size:14.67px;color:#808080;">70</div>
<div style="left:378.2px;width:60px;text-align:center;top:678.3px;height:19.700000000000045px;line-height:21.100000000000044px;font-size:14.67px;color:#000;">71</div>
<div style="left:439.7px;width:60px;text-align:center;top:678.3px;height:19.700000000000045px;line-height:21.100000000000044px;font-size:14.67px;color:#808080;">71</div>
<div style="left:502px;top:678.3px;width:53px;height:19.700000000000045px;background:#b0ddbd;line-height:21.100000000000044px;text-align:center;font-size:14.67px;color:#595959;">72</div>
<div style="left:555px;top:678.3px;width:53px;height:19.700000000000045px;background:#a6d9b5;line-height:21.100000000000044px;text-align:center;font-size:14.67px;color:#595959;">71</div>
<div style="left:608px;top:678.3px;width:54px;height:19.700000000000045px;background:#b9e1c5;line-height:21.100000000000044px;text-align:center;font-size:14.67px;color:#595959;">73</div>
<div style="left:662px;top:678.3px;width:54px;height:19.700000000000045px;background:#a6d9b5;line-height:21.100000000000044px;text-align:center;font-size:14.67px;color:#595959;">71</div>
<div style="left:716px;top:678.3px;width:53px;height:19.700000000000045px;background:#fabcbe;line-height:21.100000000000044px;text-align:center;font-size:14.67px;color:#595959;">82</div>
<div style="left:769px;top:678.3px;width:54px;height:19.700000000000045px;background:#b9e1c5;line-height:21.100000000000044px;text-align:center;font-size:14.67px;color:#595959;">72</div>
<div style="left:823px;top:678.3px;width:43px;height:19.700000000000045px;background:#63be7b;line-height:21.100000000000044px;text-align:center;font-size:14.67px;color:#595959;">61</div>
<div style="left:866px;top:678.3px;width:51px;height:19.700000000000045px;background:#9cd5ac;line-height:21.100000000000044px;text-align:center;font-size:14.67px;color:#595959;">69</div>
<div style="left:917px;top:678.3px;width:56px;height:19.700000000000045px;background:#9cd5ac;line-height:21.100000000000044px;text-align:center;font-size:14.67px;color:#595959;">69</div>
<div style="left:973px;top:678.3px;width:53px;height:19.700000000000045px;background:#fcfcff;line-height:21.100000000000044px;text-align:center;font-size:14.67px;color:#595959;">77</div>
<div style="left:1026px;top:678.3px;width:54px;height:19.700000000000045px;background:#a6d9b5;line-height:21.100000000000044px;text-align:center;font-size:14.67px;color:#595959;">69</div>
<div style="left:1080px;top:678.3px;width:54px;height:19.700000000000045px;background:#c3e5ce;line-height:21.100000000000044px;text-align:center;font-size:14.67px;color:#595959;">72</div>
<div style="left:1134px;top:678.3px;width:53px;height:19.700000000000045px;background:#fbe4e7;line-height:21.100000000000044px;text-align:center;font-size:14.67px;color:#595959;">79</div>
<div style="left:1187px;top:678.3px;width:54px;height:19.700000000000045px;background:#f8696b;line-height:21.100000000000044px;text-align:center;font-size:14.67px;color:#595959;">87</div>
<div style="left:1241px;top:678.3px;width:54px;height:19.700000000000045px;background:#80ca94;line-height:21.100000000000044px;text-align:center;font-size:14.67px;color:#595959;">65</div>
<div style="left:1295px;top:678.3px;width:53px;height:19.700000000000045px;background:#b9e1c5;line-height:21.100000000000044px;text-align:center;font-size:14.67px;color:#595959;">71</div>
<div style="left:1348px;top:678.3px;width:54px;height:19.700000000000045px;background:#fcf8fb;line-height:21.100000000000044px;text-align:center;font-size:14.67px;color:#595959;">77</div>
<div style="left:1402px;top:678.3px;width:80px;height:19.700000000000045px;background:#93d1a4;line-height:21.100000000000044px;text-align:center;font-size:14.67px;color:#595959;">67</div>
<div style="left:1482px;top:678.3px;width:51px;height:19.700000000000045px;background:#c3e5ce;line-height:21.100000000000044px;text-align:center;font-size:14.67px;color:#595959;">72</div>
<div style="left:10px;top:698px;height:20.5px;line-height:21.9px;font-size:14.67px;color:#808080;letter-spacing:0.17px;">2025-12-01</div>
<div style="left:113.2px;width:60px;text-align:center;top:698px;height:20.5px;line-height:21.9px;font-size:14.67px;color:#7b2382;">71</div>
<div style="left:167.2px;width:60px;text-align:center;top:698px;height:20.5px;line-height:21.9px;font-size:14.67px;color:#808080;">53</div>
<div style="left:203.7px;width:60px;text-align:center;top:698px;height:20.5px;line-height:21.9px;font-size:14.67px;color:#808080;">79</div>
<div style="left:253.7px;width:60px;text-align:center;top:698px;height:20.5px;line-height:21.9px;font-size:14.67px;color:#808080;">60</div>
<div style="left:315.7px;width:60px;text-align:center;top:698px;height:20.5px;line-height:21.9px;font-size:14.67px;color:#808080;">62</div>
<div style="left:378.2px;width:60px;text-align:center;top:698px;height:20.5px;line-height:21.9px;font-size:14.67px;color:#000;">63</div>
<div style="left:439.7px;width:60px;text-align:center;top:698px;height:20.5px;line-height:21.9px;font-size:14.67px;color:#808080;">62</div>
<div style="left:502px;top:698px;width:53px;height:20.5px;background:#b9e1c5;line-height:21.9px;text-align:center;font-size:14.67px;color:#595959;">64</div>
<div style="left:555px;top:698px;width:53px;height:20.5px;background:#a6d9b5;line-height:21.9px;text-align:center;font-size:14.67px;color:#595959;">62</div>
<div style="left:608px;top:698px;width:54px;height:20.5px;background:#b9e1c5;line-height:21.9px;text-align:center;font-size:14.67px;color:#595959;">64</div>
<div style="left:662px;top:698px;width:54px;height:20.5px;background:#b0ddbd;line-height:21.9px;text-align:center;font-size:14.67px;color:#595959;">63</div>
<div style="left:716px;top:698px;width:53px;height:20.5px;background:#fac5c8;line-height:21.9px;text-align:center;font-size:14.67px;color:#595959;">74</div>
<div style="left:769px;top:698px;width:54px;height:20.5px;background:#b9e1c5;line-height:21.9px;text-align:center;font-size:14.67px;color:#595959;">63</div>
<div style="left:823px;top:698px;width:43px;height:20.5px;background:#63be7b;line-height:21.9px;text-align:center;font-size:14.67px;color:#595959;">53</div>
<div style="left:866px;top:698px;width:51px;height:20.5px;background:#93d1a4;line-height:21.9px;text-align:center;font-size:14.67px;color:#595959;">59</div>
<div style="left:917px;top:698px;width:56px;height:20.5px;background:#93d1a4;line-height:21.9px;text-align:center;font-size:14.67px;color:#595959;">59</div>
<div style="left:973px;top:698px;width:53px;height:20.5px;background:#f4f9f8;line-height:21.9px;text-align:center;font-size:14.67px;color:#595959;">70</div>
<div style="left:1026px;top:698px;width:54px;height:20.5px;background:#9cd5ac;line-height:21.9px;text-align:center;font-size:14.67px;color:#595959;">60</div>
<div style="left:1080px;top:698px;width:54px;height:20.5px;background:#c3e5ce;line-height:21.9px;text-align:center;font-size:14.67px;color:#595959;">64</div>
<div style="left:1134px;top:698px;width:53px;height:20.5px;background:#f6fafa;line-height:21.9px;text-align:center;font-size:14.67px;color:#595959;">70</div>
<div style="left:1187px;top:698px;width:54px;height:20.5px;background:#f8696b;line-height:21.9px;text-align:center;font-size:14.67px;color:#595959;">79</div>
<div style="left:1241px;top:698px;width:54px;height:20.5px;background:#80ca94;line-height:21.9px;text-align:center;font-size:14.67px;color:#595959;">57</div>
<div style="left:1295px;top:698px;width:53px;height:20.5px;background:#b0ddbd;line-height:21.9px;text-align:center;font-size:14.67px;color:#595959;">62</div>
<div style="left:1348px;top:698px;width:54px;height:20.5px;background:#f8fafc;line-height:21.9px;text-align:center;font-size:14.67px;color:#595959;">70</div>
<div style="left:1402px;top:698px;width:80px;height:20.5px;background:#89ce9c;line-height:21.9px;text-align:center;font-size:14.67px;color:#595959;">58</div>
<div style="left:1482px;top:698px;width:51px;height:20.5px;background:#c3e5ce;line-height:21.9px;text-align:center;font-size:14.67px;color:#595959;">64</div>
<div style="left:7px;top:519.5999999999999px;width:1526px;height:1.4px;background:#000;"></div>
<div style="left:106px;top:479px;width:1.3px;height:239.5px;background:#000;"></div>
<div style="left:501.2px;top:479px;height:239.5px;width:1.1px;background:repeating-linear-gradient(180deg,#000 0 1px,transparent 1px 2px);"></div>
<div style="left:7px;top:539.9px;width:1526px;height:1.2px;background:repeating-linear-gradient(90deg,#000 0 3px,transparent 3px 4.4px);"></div>
<div style="left:7px;top:598.9px;width:1526px;height:1.2px;background:repeating-linear-gradient(90deg,#000 0 3px,transparent 3px 4.4px);"></div>
<div style="left:8px;top:757px;width:98px;height:22.399999999999977px;background:#f2f2f2;"></div>
<div style="left:108px;top:757px;width:392px;height:22.399999999999977px;background:#f2f2f2;"></div>
<div style="left:10px;top:757px;height:22.399999999999977px;line-height:27.399999999999977px;font-size:14.67px;font-weight:bold;color:#4f6228;">SE1</div>
<div style="left:233px;width:100px;text-align:center;top:738px;height:20px;line-height:20px;font-size:14.67px;color:#222;letter-spacing:0.6px;">Mean</div>
<div style="left:102.5px;width:80px;text-align:center;top:757px;height:22.399999999999977px;line-height:27.399999999999977px;font-size:14.67px;color:#7b2382;font-weight:bold;">Normal</div>
<div style="left:156.5px;width:80px;text-align:center;top:757px;height:22.399999999999977px;line-height:27.399999999999977px;font-size:14.67px;color:#222;letter-spacing:0.5px;">Min</div>
<div style="left:193px;width:80px;text-align:center;top:757px;height:22.399999999999977px;line-height:27.399999999999977px;font-size:14.67px;color:#222;letter-spacing:0.5px;">Max</div>
<div style="left:243px;width:80px;text-align:center;top:757px;height:22.399999999999977px;line-height:27.399999999999977px;font-size:14.67px;color:#8c8c8c;letter-spacing:0.5px;">80-21</div>
<div style="left:305px;width:80px;text-align:center;top:757px;height:22.399999999999977px;line-height:27.399999999999977px;font-size:14.67px;color:#8c8c8c;letter-spacing:0.5px;">90-21</div>
<div style="left:367.5px;width:80px;text-align:center;top:757px;height:22.399999999999977px;line-height:27.399999999999977px;font-size:14.67px;color:#000;font-weight:bold;">97-21</div>
<div style="left:429px;width:80px;text-align:center;top:757px;height:22.399999999999977px;line-height:27.399999999999977px;font-size:14.67px;color:#8c8c8c;letter-spacing:0.5px;">-NoGo</div>
<div style="left:608px;top:737px;width:54px;height:21px;background:#bfbfbf;line-height:22.5px;text-align:center;font-size:14.67px;color:#111;letter-spacing:0.3px;">NoGo</div>
<div style="left:662px;top:737px;width:54px;height:21px;background:#a6c9ec;line-height:22.5px;text-align:center;font-size:14.67px;color:#111;letter-spacing:0.35px;padding-right:5px;">Select</div>
<div style="left:502px;top:757px;width:53px;height:22.399999999999977px;line-height:24.899999999999977px;text-align:center;font-size:14.67px;color:#595959;">00</div>
<div style="left:555px;top:757px;width:53px;height:22.399999999999977px;line-height:24.899999999999977px;text-align:center;font-size:14.67px;color:#595959;">02</div>
<div style="left:608px;top:757px;width:54px;height:22.399999999999977px;background:#bfbfbf;line-height:22.899999999999977px;text-align:center;font-size:16.5px;color:#595959;">04</div>
<div style="left:662px;top:757px;width:54px;height:22.399999999999977px;background:#a6c9ec;line-height:24.899999999999977px;text-align:center;font-size:14.67px;color:#595959;">05</div>
<div style="left:716px;top:757px;width:53px;height:22.399999999999977px;background:#bfbfbf;line-height:22.899999999999977px;text-align:center;font-size:16.5px;color:#595959;">06</div>
<div style="left:769px;top:757px;width:55px;height:22.399999999999977px;background:#a6c9ec;line-height:22.899999999999977px;text-align:center;font-size:16.5px;color:#595959;">08</div>
<div style="left:823px;top:757px;width:43px;height:22.399999999999977px;line-height:24.899999999999977px;text-align:center;font-size:14.67px;color:#595959;">09</div>
<div style="left:866px;top:757px;width:51px;height:22.399999999999977px;background:#bfbfbf;line-height:24.899999999999977px;text-align:center;font-size:14.67px;color:#595959;">10</div>
<div style="left:917px;top:757px;width:56px;height:22.399999999999977px;line-height:24.899999999999977px;text-align:center;font-size:14.67px;color:#595959;">11</div>
<div style="left:973px;top:757px;width:53px;height:22.399999999999977px;line-height:22.899999999999977px;text-align:center;font-size:16.5px;color:#595959;">12</div>
<div style="left:1026px;top:757px;width:54px;height:22.399999999999977px;background:#bfbfbf;line-height:22.899999999999977px;text-align:center;font-size:16.5px;color:#595959;">13</div>
<div style="left:1080px;top:757px;width:54px;height:22.399999999999977px;background:#a6c9ec;line-height:22.899999999999977px;text-align:center;font-size:16.5px;color:#595959;">14</div>
<div style="left:1134px;top:757px;width:53px;height:22.399999999999977px;line-height:24.899999999999977px;text-align:center;font-size:14.67px;color:#595959;">15</div>
<div style="left:1187px;top:757px;width:54px;height:22.399999999999977px;line-height:22.899999999999977px;text-align:center;font-size:16.5px;color:#595959;">16</div>
<div style="left:1241px;top:757px;width:54px;height:22.399999999999977px;line-height:24.899999999999977px;text-align:center;font-size:14.67px;color:#595959;">17</div>
<div style="left:1295px;top:757px;width:53px;height:22.399999999999977px;line-height:24.899999999999977px;text-align:center;font-size:14.67px;color:#595959;">18</div>
<div style="left:1348px;top:757px;width:54px;height:22.399999999999977px;line-height:22.899999999999977px;text-align:center;font-size:16.5px;color:#595959;">19</div>
<div style="left:1402px;top:757px;width:80px;height:22.399999999999977px;line-height:24.899999999999977px;text-align:center;font-size:14.67px;color:#595959;">20</div>
<div style="left:1482px;top:757px;width:51px;height:22.399999999999977px;background:#bfbfbf;line-height:22.899999999999977px;text-align:center;font-size:16.5px;color:#595959;">21</div>
<div style="left:10px;top:780px;height:18.5px;line-height:19.9px;font-size:14.67px;color:#808080;letter-spacing:0.17px;">2025-03-01</div>
<div style="left:113.2px;width:60px;text-align:center;top:780px;height:18.5px;line-height:19.9px;font-size:14.67px;color:#7b2382;">35</div>
<div style="left:167.2px;width:60px;text-align:center;top:780px;height:18.5px;line-height:19.9px;font-size:14.67px;color:#808080;">57</div>
<div style="left:203.7px;width:60px;text-align:center;top:780px;height:18.5px;line-height:19.9px;font-size:14.67px;color:#808080;">60</div>
<div style="left:253.7px;width:60px;text-align:center;top:780px;height:18.5px;line-height:19.9px;font-size:14.67px;color:#808080;">58</div>
<div style="left:315.7px;width:60px;text-align:center;top:780px;height:18.5px;line-height:19.9px;font-size:14.67px;color:#808080;">58</div>
<div style="left:378.2px;width:60px;text-align:center;top:780px;height:18.5px;line-height:19.9px;font-size:14.67px;color:#000;">58</div>
<div style="left:439.7px;width:60px;text-align:center;top:780px;height:18.5px;line-height:19.9px;font-size:14.67px;color:#808080;">58</div>
<div style="left:502px;top:780px;width:53px;height:18.5px;background:#fbd7da;line-height:19.9px;text-align:center;font-size:14.67px;color:#595959;">58</div>
<div style="left:555px;top:780px;width:53px;height:18.5px;background:#fbe6e9;line-height:19.9px;text-align:center;font-size:14.67px;color:#595959;">58</div>
<div style="left:608px;top:780px;width:54px;height:18.5px;background:#fbdbde;line-height:19.9px;text-align:center;font-size:14.67px;color:#595959;">58</div>
<div style="left:662px;top:780px;width:54px;height:18.5px;background:#fbd2d4;line-height:19.9px;text-align:center;font-size:14.67px;color:#595959;">58</div>
<div style="left:716px;top:780px;width:53px;height:18.5px;background:#fcf5f8;line-height:19.9px;text-align:center;font-size:14.67px;color:#595959;">58</div>
<div style="left:769px;top:780px;width:54px;height:18.5px;background:#fceaec;line-height:19.9px;text-align:center;font-size:14.67px;color:#595959;">58</div>
<div style="left:823px;top:780px;width:43px;height:18.5px;background:#fbe0e3;line-height:19.9px;text-align:center;font-size:14.67px;color:#595959;">58</div>
<div style="left:866px;top:780px;width:51px;height:18.5px;background:#fbe0e3;line-height:19.9px;text-align:center;font-size:14.67px;color:#595959;">58</div>
<div style="left:917px;top:780px;width:56px;height:18.5px;background:#fab2b5;line-height:19.9px;text-align:center;font-size:14.67px;color:#595959;">58</div>
<div style="left:973px;top:780px;width:53px;height:18.5px;background:#fabcbe;line-height:19.9px;text-align:center;font-size:14.67px;color:#595959;">58</div>
<div style="left:1026px;top:780px;width:54px;height:18.5px;background:#fbd4d6;line-height:19.9px;text-align:center;font-size:14.67px;color:#595959;">58</div>
<div style="left:1080px;top:780px;width:54px;height:18.5px;background:#fac5c8;line-height:19.9px;text-align:center;font-size:14.67px;color:#595959;">58</div>
<div style="left:1134px;top:780px;width:53px;height:18.5px;background:#f8696b;line-height:19.9px;text-align:center;font-size:14.67px;color:#595959;">60</div>
<div style="left:1187px;top:780px;width:54px;height:18.5px;background:#fbdbde;line-height:19.9px;text-align:center;font-size:14.67px;color:#595959;">58</div>
<div style="left:1241px;top:780px;width:54px;height:18.5px;background:#fbd7da;line-height:19.9px;text-align:center;font-size:14.67px;color:#595959;">58</div>
<div style="left:1295px;top:780px;width:53px;height:18.5px;background:#fcfcff;line-height:19.9px;text-align:center;font-size:14.67px;color:#595959;">57</div>
<div style="left:1348px;top:780px;width:54px;height:18.5px;background:#fabcbe;line-height:19.9px;text-align:center;font-size:14.67px;color:#595959;">58</div>
<div style="left:1402px;top:780px;width:80px;height:18.5px;background:#f87b7e;line-height:19.9px;text-align:center;font-size:14.67px;color:#595959;">59</div>
<div style="left:1482px;top:780px;width:51px;height:18.5px;background:#fac5c8;line-height:19.9px;text-align:center;font-size:14.67px;color:#595959;">58</div>
<div style="left:10px;top:798.5px;height:19.5px;line-height:20.9px;font-size:14.67px;color:#808080;letter-spacing:0.17px;">2025-04-01</div>
<div style="left:113.2px;width:60px;text-align:center;top:798.5px;height:19.5px;line-height:20.9px;font-size:14.67px;color:#7b2382;">26</div>
<div style="left:167.2px;width:60px;text-align:center;top:798.5px;height:19.5px;line-height:20.9px;font-size:14.67px;color:#808080;">47</div>
<div style="left:203.7px;width:60px;text-align:center;top:798.5px;height:19.5px;line-height:20.9px;font-size:14.67px;color:#808080;">51</div>
<div style="left:253.7px;width:60px;text-align:center;top:798.5px;height:19.5px;line-height:20.9px;font-size:14.67px;color:#808080;">47</div>
<div style="left:315.7px;width:60px;text-align:center;top:798.5px;height:19.5px;line-height:20.9px;font-size:14.67px;color:#808080;">48</div>
<div style="left:378.2px;width:60px;text-align:center;top:798.5px;height:19.5px;line-height:20.9px;font-size:14.67px;color:#000;">48</div>
<div style="left:439.7px;width:60px;text-align:center;top:798.5px;height:19.5px;line-height:20.9px;font-size:14.67px;color:#808080;">48</div>
<div style="left:502px;top:798.5px;width:53px;height:19.5px;background:#fbdbde;line-height:20.9px;text-align:center;font-size:14.67px;color:#595959;">48</div>
<div style="left:555px;top:798.5px;width:53px;height:19.5px;background:#fcfcff;line-height:20.9px;text-align:center;font-size:14.67px;color:#595959;">47</div>
<div style="left:608px;top:798.5px;width:54px;height:19.5px;background:#fac5c8;line-height:20.9px;text-align:center;font-size:14.67px;color:#595959;">49</div>
<div style="left:662px;top:798.5px;width:54px;height:19.5px;background:#fbe0e3;line-height:20.9px;text-align:center;font-size:14.67px;color:#595959;">48</div>
<div style="left:716px;top:798.5px;width:53px;height:19.5px;background:#fbe6e9;line-height:20.9px;text-align:center;font-size:14.67px;color:#595959;">48</div>
<div style="left:769px;top:798.5px;width:54px;height:19.5px;background:#fabcbe;line-height:20.9px;text-align:center;font-size:14.67px;color:#595959;">49</div>
<div style="left:823px;top:798.5px;width:43px;height:19.5px;background:#fcfafd;line-height:20.9px;text-align:center;font-size:14.67px;color:#595959;">47</div>
<div style="left:866px;top:798.5px;width:51px;height:19.5px;background:#fcf6f9;line-height:20.9px;text-align:center;font-size:14.67px;color:#595959;">47</div>
<div style="left:917px;top:798.5px;width:56px;height:19.5px;background:#fbced1;line-height:20.9px;text-align:center;font-size:14.67px;color:#595959;">48</div>
<div style="left:973px;top:798.5px;width:53px;height:19.5px;background:#fac5c8;line-height:20.9px;text-align:center;font-size:14.67px;color:#595959;">49</div>
<div style="left:1026px;top:798.5px;width:54px;height:19.5px;background:#fbe6e9;line-height:20.9px;text-align:center;font-size:14.67px;color:#595959;">48</div>
<div style="left:1080px;top:798.5px;width:54px;height:19.5px;background:#fbd7da;line-height:20.9px;text-align:center;font-size:14.67px;color:#595959;">48</div>
<div style="left:1134px;top:798.5px;width:53px;height:19.5px;background:#f8696b;line-height:20.9px;text-align:center;font-size:14.67px;color:#595959;">51</div>
<div style="left:1187px;top:798.5px;width:54px;height:19.5px;background:#fbd7da;line-height:20.9px;text-align:center;font-size:14.67px;color:#595959;">48</div>
<div style="left:1241px;top:798.5px;width:54px;height:19.5px;background:#fbd2d4;line-height:20.9px;text-align:center;font-size:14.67px;color:#595959;">48</div>
<div style="left:1295px;top:798.5px;width:53px;height:19.5px;background:#fcfafd;line-height:20.9px;text-align:center;font-size:14.67px;color:#595959;">47</div>
<div style="left:1348px;top:798.5px;width:54px;height:19.5px;background:#fbced1;line-height:20.9px;text-align:center;font-size:14.67px;color:#595959;">48</div>
<div style="left:1402px;top:798.5px;width:80px;height:19.5px;background:#f87274;line-height:20.9px;text-align:center;font-size:14.67px;color:#595959;">51</div>
<div style="left:1482px;top:798.5px;width:51px;height:19.5px;background:#fbd2d4;line-height:20.9px;text-align:center;font-size:14.67px;color:#595959;">48</div>
<div style="left:10px;top:818px;height:20px;line-height:21.4px;font-size:14.67px;color:#808080;letter-spacing:0.17px;">2025-05-01</div>
<div style="left:113.2px;width:60px;text-align:center;top:818px;height:20px;line-height:21.4px;font-size:14.67px;color:#7b2382;">25</div>
<div style="left:167.2px;width:60px;text-align:center;top:818px;height:20px;line-height:21.4px;font-size:14.67px;color:#808080;">39</div>
<div style="left:203.7px;width:60px;text-align:center;top:818px;height:20px;line-height:21.4px;font-size:14.67px;color:#808080;">53</div>
<div style="left:253.7px;width:60px;text-align:center;top:818px;height:20px;line-height:21.4px;font-size:14.67px;color:#808080;">43</div>
<div style="left:315.7px;width:60px;text-align:center;top:818px;height:20px;line-height:21.4px;font-size:14.67px;color:#808080;">44</div>
<div style="left:378.2px;width:60px;text-align:center;top:818px;height:20px;line-height:21.4px;font-size:14.67px;color:#000;">44</div>
<div style="left:439.7px;width:60px;text-align:center;top:818px;height:20px;line-height:21.4px;font-size:14.67px;color:#808080;">45</div>
<div style="left:502px;top:818px;width:53px;height:20px;background:#fbe0e3;line-height:21.4px;text-align:center;font-size:14.67px;color:#595959;">42</div>
<div style="left:555px;top:818px;width:53px;height:20px;background:#fac5c8;line-height:21.4px;text-align:center;font-size:14.67px;color:#595959;">44</div>
<div style="left:608px;top:818px;width:54px;height:20px;background:#fbc9cb;line-height:21.4px;text-align:center;font-size:14.67px;color:#595959;">44</div>
<div style="left:662px;top:818px;width:54px;height:20px;background:#faa9ac;line-height:21.4px;text-align:center;font-size:14.67px;color:#595959;">46</div>
<div style="left:716px;top:818px;width:53px;height:20px;background:#fceaec;line-height:21.4px;text-align:center;font-size:14.67px;color:#595959;">41</div>
<div style="left:769px;top:818px;width:54px;height:20px;background:#fabcbe;line-height:21.4px;text-align:center;font-size:14.67px;color:#595959;">45</div>
<div style="left:823px;top:818px;width:43px;height:20px;background:#fac5c8;line-height:21.4px;text-align:center;font-size:14.67px;color:#595959;">44</div>
<div style="left:866px;top:818px;width:51px;height:20px;background:#fac1c4;line-height:21.4px;text-align:center;font-size:14.67px;color:#595959;">44</div>
<div style="left:917px;top:818px;width:56px;height:20px;background:#fbced1;line-height:21.4px;text-align:center;font-size:14.67px;color:#595959;">43</div>
<div style="left:973px;top:818px;width:53px;height:20px;background:#fabcbe;line-height:21.4px;text-align:center;font-size:14.67px;color:#595959;">45</div>
<div style="left:1026px;top:818px;width:54px;height:20px;background:#fceaec;line-height:21.4px;text-align:center;font-size:14.67px;color:#595959;">41</div>
<div style="left:1080px;top:818px;width:54px;height:20px;background:#fabcbe;line-height:21.4px;text-align:center;font-size:14.67px;color:#595959;">45</div>
<div style="left:1134px;top:818px;width:53px;height:20px;background:#fab2b5;line-height:21.4px;text-align:center;font-size:14.67px;color:#595959;">46</div>
<div style="left:1187px;top:818px;width:54px;height:20px;background:#fabcbe;line-height:21.4px;text-align:center;font-size:14.67px;color:#595959;">45</div>
<div style="left:1241px;top:818px;width:54px;height:20px;background:#faafb1;line-height:21.4px;text-align:center;font-size:14.67px;color:#595959;">46</div>
<div style="left:1295px;top:818px;width:53px;height:20px;background:#fcfcff;line-height:21.4px;text-align:center;font-size:14.67px;color:#595959;">39</div>
<div style="left:1348px;top:818px;width:54px;height:20px;background:#faa0a2;line-height:21.4px;text-align:center;font-size:14.67px;color:#595959;">48</div>
<div style="left:1402px;top:818px;width:80px;height:20px;background:#f8696b;line-height:21.4px;text-align:center;font-size:14.67px;color:#595959;">53</div>
<div style="left:1482px;top:818px;width:51px;height:20px;background:#fcf8fb;line-height:21.4px;text-align:center;font-size:14.67px;color:#595959;">40</div>
<div style="left:10px;top:838px;height:20.5px;line-height:21.9px;font-size:14.67px;color:#808080;letter-spacing:0.17px;">2025-06-01</div>
<div style="left:113.2px;width:60px;text-align:center;top:838px;height:20.5px;line-height:21.9px;font-size:14.67px;color:#7b2382;">41</div>
<div style="left:167.2px;width:60px;text-align:center;top:838px;height:20.5px;line-height:21.9px;font-size:14.67px;color:#808080;">48</div>
<div style="left:203.7px;width:60px;text-align:center;top:838px;height:20.5px;line-height:21.9px;font-size:14.67px;color:#808080;">73</div>
<div style="left:253.7px;width:60px;text-align:center;top:838px;height:20.5px;line-height:21.9px;font-size:14.67px;color:#808080;">53</div>
<div style="left:315.7px;width:60px;text-align:center;top:838px;height:20.5px;line-height:21.9px;font-size:14.67px;color:#808080;">53</div>
<div style="left:378.2px;width:60px;text-align:center;top:838px;height:20.5px;line-height:21.9px;font-size:14.67px;color:#000;">54</div>
<div style="left:439.7px;width:60px;text-align:center;top:838px;height:20.5px;line-height:21.9px;font-size:14.67px;color:#808080;">55</div>
<div style="left:502px;top:838px;width:53px;height:20.5px;background:#fbd7da;line-height:21.9px;text-align:center;font-size:14.67px;color:#595959;">53</div>
<div style="left:555px;top:838px;width:53px;height:20.5px;background:#fceaec;line-height:21.9px;text-align:center;font-size:14.67px;color:#595959;">50</div>
<div style="left:608px;top:838px;width:54px;height:20.5px;background:#fbdbde;line-height:21.9px;text-align:center;font-size:14.67px;color:#595959;">52</div>
<div style="left:662px;top:838px;width:54px;height:20.5px;background:#fcedf0;line-height:21.9px;text-align:center;font-size:14.67px;color:#595959;">49</div>
<div style="left:716px;top:838px;width:53px;height:20.5px;background:#fceaec;line-height:21.9px;text-align:center;font-size:14.67px;color:#595959;">50</div>
<div style="left:769px;top:838px;width:54px;height:20.5px;background:#fbced1;line-height:21.9px;text-align:center;font-size:14.67px;color:#595959;">54</div>
<div style="left:823px;top:838px;width:43px;height:20.5px;background:#fbd7da;line-height:21.9px;text-align:center;font-size:14.67px;color:#595959;">52</div>
<div style="left:866px;top:838px;width:51px;height:20.5px;background:#fbd7da;line-height:21.9px;text-align:center;font-size:14.67px;color:#595959;">52</div>
<div style="left:917px;top:838px;width:56px;height:20.5px;background:#fbd7da;line-height:21.9px;text-align:center;font-size:14.67px;color:#595959;">52</div>
<div style="left:973px;top:838px;width:53px;height:20.5px;background:#fab2b5;line-height:21.9px;text-align:center;font-size:14.67px;color:#595959;">59</div>
<div style="left:1026px;top:838px;width:54px;height:20.5px;background:#fcf1f4;line-height:21.9px;text-align:center;font-size:14.67px;color:#595959;">48</div>
<div style="left:1080px;top:838px;width:54px;height:20.5px;background:#f8696b;line-height:21.9px;text-align:center;font-size:14.67px;color:#595959;">73</div>
<div style="left:1134px;top:838px;width:53px;height:20.5px;background:#faa9ac;line-height:21.9px;text-align:center;font-size:14.67px;color:#595959;">63</div>
<div style="left:1187px;top:838px;width:54px;height:20.5px;background:#fabcbe;line-height:21.9px;text-align:center;font-size:14.67px;color:#595959;">58</div>
<div style="left:1241px;top:838px;width:54px;height:20.5px;background:#fabfc2;line-height:21.9px;text-align:center;font-size:14.67px;color:#595959;">58</div>
<div style="left:1295px;top:838px;width:53px;height:20.5px;background:#fcf5f8;line-height:21.9px;text-align:center;font-size:14.67px;color:#595959;">48</div>
<div style="left:1348px;top:838px;width:54px;height:20.5px;background:#faa9ac;line-height:21.9px;text-align:center;font-size:14.67px;color:#595959;">61</div>
<div style="left:1402px;top:838px;width:80px;height:20.5px;background:#f98e90;line-height:21.9px;text-align:center;font-size:14.67px;color:#595959;">66</div>
<div style="left:1482px;top:838px;width:51px;height:20.5px;background:#fcfafd;line-height:21.9px;text-align:center;font-size:14.67px;color:#595959;">46</div>
<div style="left:10px;top:858.5px;height:18.5px;line-height:19.9px;font-size:14.67px;color:#ff0000;letter-spacing:0.17px;">2025-07-01</div>
<div style="left:113.2px;width:60px;text-align:center;top:858.5px;height:18.5px;line-height:19.9px;font-size:14.67px;color:#7b2382;">61</div>
<div style="left:167.2px;width:60px;text-align:center;top:858.5px;height:18.5px;line-height:19.9px;font-size:14.67px;color:#808080;">71</div>
<div style="left:203.7px;width:60px;text-align:center;top:858.5px;height:18.5px;line-height:19.9px;font-size:14.67px;color:#808080;">93</div>
<div style="left:253.7px;width:60px;text-align:center;top:858.5px;height:18.5px;line-height:19.9px;font-size:14.67px;color:#808080;">76</div>
<div style="left:315.7px;width:60px;text-align:center;top:858.5px;height:18.5px;line-height:19.9px;font-size:14.67px;color:#808080;">77</div>
<div style="left:378.2px;width:60px;text-align:center;top:858.5px;height:18.5px;line-height:19.9px;font-size:14.67px;color:#000;">78</div>
<div style="left:439.7px;width:60px;text-align:center;top:858.5px;height:18.5px;line-height:19.9px;font-size:14.67px;color:#808080;">79</div>
<div style="left:502px;top:858.5px;width:53px;height:18.5px;background:#faa9ac;line-height:19.9px;text-align:center;font-size:14.67px;color:#595959;">83</div>
<div style="left:555px;top:858.5px;width:53px;height:18.5px;background:#fbced1;line-height:19.9px;text-align:center;font-size:14.67px;color:#595959;">78</div>
<div style="left:608px;top:858.5px;width:54px;height:18.5px;background:#fbced1;line-height:19.9px;text-align:center;font-size:14.67px;color:#595959;">78</div>
<div style="left:662px;top:858.5px;width:54px;height:18.5px;background:#fbe6e9;line-height:19.9px;text-align:center;font-size:14.67px;color:#595959;">74</div>
<div style="left:716px;top:858.5px;width:53px;height:18.5px;background:#fabcbe;line-height:19.9px;text-align:center;font-size:14.67px;color:#595959;">81</div>
<div style="left:769px;top:858.5px;width:54px;height:18.5px;background:#fabcbe;line-height:19.9px;text-align:center;font-size:14.67px;color:#595959;">80</div>
<div style="left:823px;top:858.5px;width:43px;height:18.5px;background:#fcedf0;line-height:19.9px;text-align:center;font-size:14.67px;color:#595959;">73</div>
<div style="left:866px;top:858.5px;width:51px;height:18.5px;background:#fcfafd;line-height:19.9px;text-align:center;font-size:14.67px;color:#595959;">71</div>
<div style="left:917px;top:858.5px;width:56px;height:18.5px;background:#fbe4e7;line-height:19.9px;text-align:center;font-size:14.67px;color:#595959;">75</div>
<div style="left:973px;top:858.5px;width:53px;height:18.5px;background:#f98e90;line-height:19.9px;text-align:center;font-size:14.67px;color:#595959;">87</div>
<div style="left:1026px;top:858.5px;width:54px;height:18.5px;background:#fbe6e9;line-height:19.9px;text-align:center;font-size:14.67px;color:#595959;">74</div>
<div style="left:1080px;top:858.5px;width:54px;height:18.5px;background:#f8696b;line-height:19.9px;text-align:center;font-size:14.67px;color:#595959;">93</div>
<div style="left:1134px;top:858.5px;width:53px;height:18.5px;background:#f98e90;line-height:19.9px;text-align:center;font-size:14.67px;color:#595959;">89</div>
<div style="left:1187px;top:858.5px;width:54px;height:18.5px;background:#fab2b5;line-height:19.9px;text-align:center;font-size:14.67px;color:#595959;">82</div>
<div style="left:1241px;top:858.5px;width:54px;height:18.5px;background:#fbced1;line-height:19.9px;text-align:center;font-size:14.67px;color:#595959;">78</div>
<div style="left:1295px;top:858.5px;width:53px;height:18.5px;background:#fcf5f8;line-height:19.9px;text-align:center;font-size:14.67px;color:#595959;">72</div>
<div style="left:1348px;top:858.5px;width:54px;height:18.5px;background:#fbe0e3;line-height:19.9px;text-align:center;font-size:14.67px;color:#595959;">75</div>
<div style="left:1402px;top:858.5px;width:80px;height:18.5px;background:#faa9ac;line-height:19.9px;text-align:center;font-size:14.67px;color:#595959;">84</div>
<div style="left:1482px;top:858.5px;width:51px;height:18.5px;background:#fbe6e9;line-height:19.9px;text-align:center;font-size:14.67px;color:#595959;">74</div>
<div style="left:10px;top:877px;height:20px;line-height:21.4px;font-size:14.67px;color:#808080;letter-spacing:0.17px;">2025-08-01</div>
<div style="left:113.2px;width:60px;text-align:center;top:877px;height:20px;line-height:21.4px;font-size:14.67px;color:#7b2382;">72</div>
<div style="left:167.2px;width:60px;text-align:center;top:877px;height:20px;line-height:21.4px;font-size:14.67px;color:#595959;">82</div>
<div style="left:203.7px;width:60px;text-align:center;top:877px;height:20px;line-height:21.4px;font-size:14.67px;color:#595959;">100</div>
<div style="left:253.7px;width:60px;text-align:center;top:877px;height:20px;line-height:21.4px;font-size:14.67px;color:#595959;">88</div>
<div style="left:315.7px;width:60px;text-align:center;top:877px;height:20px;line-height:21.4px;font-size:14.67px;color:#595959;">90</div>
<div style="left:378.2px;width:60px;text-align:center;top:877px;height:20px;line-height:21.4px;font-size:14.67px;color:#595959;">90</div>
<div style="left:439.7px;width:60px;text-align:center;top:877px;height:20px;line-height:21.4px;font-size:14.67px;color:#595959;">91</div>
<div style="left:502px;top:877px;width:53px;height:20px;background:#faa0a2;line-height:21.4px;text-align:center;font-size:14.67px;color:#595959;">93</div>
<div style="left:555px;top:877px;width:53px;height:20px;background:#faa9ac;line-height:21.4px;text-align:center;font-size:14.67px;color:#595959;">92</div>
<div style="left:608px;top:877px;width:54px;height:20px;background:#fac5c8;line-height:21.4px;text-align:center;font-size:14.67px;color:#595959;">88</div>
<div style="left:662px;top:877px;width:54px;height:20px;background:#faa9ac;line-height:21.4px;text-align:center;font-size:14.67px;color:#595959;">92</div>
<div style="left:716px;top:877px;width:53px;height:20px;background:#fab2b5;line-height:21.4px;text-align:center;font-size:14.67px;color:#595959;">91</div>
<div style="left:769px;top:877px;width:54px;height:20px;background:#faafb1;line-height:21.4px;text-align:center;font-size:14.67px;color:#595959;">91</div>
<div style="left:823px;top:877px;width:43px;height:20px;background:#fcedf0;line-height:21.4px;text-align:center;font-size:14.67px;color:#595959;">83</div>
<div style="left:866px;top:877px;width:51px;height:20px;background:#fcf8fb;line-height:21.4px;text-align:center;font-size:14.67px;color:#595959;">82</div>
<div style="left:917px;top:877px;width:56px;height:20px;background:#faadaf;line-height:21.4px;text-align:center;font-size:14.67px;color:#595959;">91</div>
<div style="left:973px;top:877px;width:53px;height:20px;background:#faa0a2;line-height:21.4px;text-align:center;font-size:14.67px;color:#595959;">93</div>
<div style="left:1026px;top:877px;width:54px;height:20px;background:#f99799;line-height:21.4px;text-align:center;font-size:14.67px;color:#595959;">94</div>
<div style="left:1080px;top:877px;width:54px;height:20px;background:#f98e90;line-height:21.4px;text-align:center;font-size:14.67px;color:#595959;">96</div>
<div style="left:1134px;top:877px;width:53px;height:20px;background:#f8696b;line-height:21.4px;text-align:center;font-size:14.67px;color:#595959;">100</div>
<div style="left:1187px;top:877px;width:54px;height:20px;background:#f8696b;line-height:21.4px;text-align:center;font-size:14.67px;color:#595959;">100</div>
<div style="left:1241px;top:877px;width:54px;height:20px;background:#fac5c8;line-height:21.4px;text-align:center;font-size:14.67px;color:#595959;">88</div>
<div style="left:1295px;top:877px;width:53px;height:20px;background:#fab6b9;line-height:21.4px;text-align:center;font-size:14.67px;color:#595959;">90</div>
<div style="left:1348px;top:877px;width:54px;height:20px;background:#fcf1f4;line-height:21.4px;text-align:center;font-size:14.67px;color:#595959;">83</div>
<div style="left:1402px;top:877px;width:80px;height:20px;background:#fac1c4;line-height:21.4px;text-align:center;font-size:14.67px;color:#595959;">89</div>
<div style="left:1482px;top:877px;width:51px;height:20px;background:#faa0a2;line-height:21.4px;text-align:center;font-size:14.67px;color:#595959;">93</div>
<div style="left:10px;top:897px;height:20px;line-height:21.4px;font-size:14.67px;color:#808080;letter-spacing:0.17px;">2025-09-01</div>
<div style="left:113.2px;width:60px;text-align:center;top:897px;height:20px;line-height:21.4px;font-size:14.67px;color:#7b2382;">75</div>
<div style="left:167.2px;width:60px;text-align:center;top:897px;height:20px;line-height:21.4px;font-size:14.67px;color:#808080;">81</div>
<div style="left:203.7px;width:60px;text-align:center;top:897px;height:20px;line-height:21.4px;font-size:14.67px;color:#808080;">100</div>
<div style="left:253.7px;width:60px;text-align:center;top:897px;height:20px;line-height:21.4px;font-size:14.67px;color:#808080;">89</div>
<div style="left:315.7px;width:60px;text-align:center;top:897px;height:20px;line-height:21.4px;font-size:14.67px;color:#808080;">90</div>
<div style="left:378.2px;width:60px;text-align:center;top:897px;height:20px;line-height:21.4px;font-size:14.67px;color:#000;">91</div>
<div style="left:439.7px;width:60px;text-align:center;top:897px;height:20px;line-height:21.4px;font-size:14.67px;color:#808080;">91</div>
<div style="left:502px;top:897px;width:53px;height:20px;background:#f99799;line-height:21.4px;text-align:center;font-size:14.67px;color:#595959;">94</div>
<div style="left:555px;top:897px;width:53px;height:20px;background:#f87b7e;line-height:21.4px;text-align:center;font-size:14.67px;color:#595959;">97</div>
<div style="left:608px;top:897px;width:54px;height:20px;background:#fbd7da;line-height:21.4px;text-align:center;font-size:14.67px;color:#595959;">86</div>
<div style="left:662px;top:897px;width:54px;height:20px;background:#f99799;line-height:21.4px;text-align:center;font-size:14.67px;color:#595959;">95</div>
<div style="left:716px;top:897px;width:53px;height:20px;background:#f98587;line-height:21.4px;text-align:center;font-size:14.67px;color:#595959;">98</div>
<div style="left:769px;top:897px;width:54px;height:20px;background:#fab2b5;line-height:21.4px;text-align:center;font-size:14.67px;color:#595959;">92</div>
<div style="left:823px;top:897px;width:43px;height:20px;background:#fcfafd;line-height:21.4px;text-align:center;font-size:14.67px;color:#595959;">81</div>
<div style="left:866px;top:897px;width:51px;height:20px;background:#fcf5f8;line-height:21.4px;text-align:center;font-size:14.67px;color:#595959;">82</div>
<div style="left:917px;top:897px;width:56px;height:20px;background:#fabcbe;line-height:21.4px;text-align:center;font-size:14.67px;color:#595959;">90</div>
<div style="left:973px;top:897px;width:53px;height:20px;background:#faa4a6;line-height:21.4px;text-align:center;font-size:14.67px;color:#595959;">93</div>
<div style="left:1026px;top:897px;width:54px;height:20px;background:#f87b7e;line-height:21.4px;text-align:center;font-size:14.67px;color:#595959;">97</div>
<div style="left:1080px;top:897px;width:54px;height:20px;background:#faa0a2;line-height:21.4px;text-align:center;font-size:14.67px;color:#595959;">93</div>
<div style="left:1134px;top:897px;width:53px;height:20px;background:#f98587;line-height:21.4px;text-align:center;font-size:14.67px;color:#595959;">98</div>
<div style="left:1187px;top:897px;width:54px;height:20px;background:#f8696b;line-height:21.4px;text-align:center;font-size:14.67px;color:#595959;">100</div>
<div style="left:1241px;top:897px;width:54px;height:20px;background:#fabcbe;line-height:21.4px;text-align:center;font-size:14.67px;color:#595959;">90</div>
<div style="left:1295px;top:897px;width:53px;height:20px;background:#faa0a2;line-height:21.4px;text-align:center;font-size:14.67px;color:#595959;">94</div>
<div style="left:1348px;top:897px;width:54px;height:20px;background:#fcf8fb;line-height:21.4px;text-align:center;font-size:14.67px;color:#595959;">82</div>
<div style="left:1402px;top:897px;width:80px;height:20px;background:#fab2b5;line-height:21.4px;text-align:center;font-size:14.67px;color:#595959;">91</div>
<div style="left:1482px;top:897px;width:51px;height:20px;background:#f99799;line-height:21.4px;text-align:center;font-size:14.67px;color:#595959;">94</div>
<div style="left:10px;top:917px;height:20px;line-height:21.4px;font-size:14.67px;color:#808080;letter-spacing:0.17px;">2025-10-01</div>
<div style="left:113.2px;width:60px;text-align:center;top:917px;height:20px;line-height:21.4px;font-size:14.67px;color:#7b2382;">76</div>
<div style="left:167.2px;width:60px;text-align:center;top:917px;height:20px;line-height:21.4px;font-size:14.67px;color:#808080;">80</div>
<div style="left:203.7px;width:60px;text-align:center;top:917px;height:20px;line-height:21.4px;font-size:14.67px;color:#808080;">100</div>
<div style="left:253.7px;width:60px;text-align:center;top:917px;height:20px;line-height:21.4px;font-size:14.67px;color:#808080;">87</div>
<div style="left:315.7px;width:60px;text-align:center;top:917px;height:20px;line-height:21.4px;font-size:14.67px;color:#808080;">89</div>
<div style="left:378.2px;width:60px;text-align:center;top:917px;height:20px;line-height:21.4px;font-size:14.67px;color:#000;">90</div>
<div style="left:439.7px;width:60px;text-align:center;top:917px;height:20px;line-height:21.4px;font-size:14.67px;color:#808080;">90</div>
<div style="left:502px;top:917px;width:53px;height:20px;background:#faa9ac;line-height:21.4px;text-align:center;font-size:14.67px;color:#595959;">91</div>
<div style="left:555px;top:917px;width:53px;height:20px;background:#f98e90;line-height:21.4px;text-align:center;font-size:14.67px;color:#595959;">95</div>
<div style="left:608px;top:917px;width:54px;height:20px;background:#fac5c8;line-height:21.4px;text-align:center;font-size:14.67px;color:#595959;">87</div>
<div style="left:662px;top:917px;width:54px;height:20px;background:#f87b7e;line-height:21.4px;text-align:center;font-size:14.67px;color:#595959;">98</div>
<div style="left:716px;top:917px;width:53px;height:20px;background:#f8696b;line-height:21.4px;text-align:center;font-size:14.67px;color:#595959;">100</div>
<div style="left:769px;top:917px;width:54px;height:20px;background:#faa9ac;line-height:21.4px;text-align:center;font-size:14.67px;color:#595959;">92</div>
<div style="left:823px;top:917px;width:43px;height:20px;background:#fcfafd;line-height:21.4px;text-align:center;font-size:14.67px;color:#595959;">80</div>
<div style="left:866px;top:917px;width:51px;height:20px;background:#fbe6e9;line-height:21.4px;text-align:center;font-size:14.67px;color:#595959;">83</div>
<div style="left:917px;top:917px;width:56px;height:20px;background:#fbced1;line-height:21.4px;text-align:center;font-size:14.67px;color:#595959;">86</div>
<div style="left:973px;top:917px;width:53px;height:20px;background:#f87b7e;line-height:21.4px;text-align:center;font-size:14.67px;color:#595959;">97</div>
<div style="left:1026px;top:917px;width:54px;height:20px;background:#f87274;line-height:21.4px;text-align:center;font-size:14.67px;color:#595959;">99</div>
<div style="left:1080px;top:917px;width:54px;height:20px;background:#faa9ac;line-height:21.4px;text-align:center;font-size:14.67px;color:#595959;">91</div>
<div style="left:1134px;top:917px;width:53px;height:20px;background:#f98e90;line-height:21.4px;text-align:center;font-size:14.67px;color:#595959;">96</div>
<div style="left:1187px;top:917px;width:54px;height:20px;background:#f8696b;line-height:21.4px;text-align:center;font-size:14.67px;color:#595959;">100</div>
<div style="left:1241px;top:917px;width:54px;height:20px;background:#fabfc2;line-height:21.4px;text-align:center;font-size:14.67px;color:#595959;">88</div>
<div style="left:1295px;top:917px;width:53px;height:20px;background:#faa9ac;line-height:21.4px;text-align:center;font-size:14.67px;color:#595959;">92</div>
<div style="left:1348px;top:917px;width:54px;height:20px;background:#fbe6e9;line-height:21.4px;text-align:center;font-size:14.67px;color:#595959;">82</div>
<div style="left:1402px;top:917px;width:80px;height:20px;background:#fac1c4;line-height:21.4px;text-align:center;font-size:14.67px;color:#595959;">88</div>
<div style="left:1482px;top:917px;width:51px;height:20px;background:#f98e90;line-height:21.4px;text-align:center;font-size:14.67px;color:#595959;">95</div>
<div style="left:10px;top:937px;height:19.200000000000045px;line-height:20.600000000000044px;font-size:14.67px;color:#808080;letter-spacing:0.17px;">2025-11-01</div>
<div style="left:113.2px;width:60px;text-align:center;top:937px;height:19.200000000000045px;line-height:20.600000000000044px;font-size:14.67px;color:#7b2382;">73</div>
<div style="left:167.2px;width:60px;text-align:center;top:937px;height:19.200000000000045px;line-height:20.600000000000044px;font-size:14.67px;color:#808080;">77</div>
<div style="left:203.7px;width:60px;text-align:center;top:937px;height:19.200000000000045px;line-height:20.600000000000044px;font-size:14.67px;color:#808080;">99</div>
<div style="left:253.7px;width:60px;text-align:center;top:937px;height:19.200000000000045px;line-height:20.600000000000044px;font-size:14.67px;color:#808080;">83</div>
<div style="left:315.7px;width:60px;text-align:center;top:937px;height:19.200000000000045px;line-height:20.600000000000044px;font-size:14.67px;color:#808080;">85</div>
<div style="left:378.2px;width:60px;text-align:center;top:937px;height:19.200000000000045px;line-height:20.600000000000044px;font-size:14.67px;color:#000;">86</div>
<div style="left:439.7px;width:60px;text-align:center;top:937px;height:19.200000000000045px;line-height:20.600000000000044px;font-size:14.67px;color:#808080;">86</div>
<div style="left:502px;top:937px;width:53px;height:19.200000000000045px;background:#faa9ac;line-height:20.600000000000044px;text-align:center;font-size:14.67px;color:#595959;">88</div>
<div style="left:555px;top:937px;width:53px;height:19.200000000000045px;background:#faa0a2;line-height:20.600000000000044px;text-align:center;font-size:14.67px;color:#595959;">90</div>
<div style="left:608px;top:937px;width:54px;height:19.200000000000045px;background:#fbdbde;line-height:20.600000000000044px;text-align:center;font-size:14.67px;color:#595959;">83</div>
<div style="left:662px;top:937px;width:54px;height:19.200000000000045px;background:#f98e90;line-height:20.600000000000044px;text-align:center;font-size:14.67px;color:#595959;">94</div>
<div style="left:716px;top:937px;width:53px;height:19.200000000000045px;background:#f87274;line-height:20.600000000000044px;text-align:center;font-size:14.67px;color:#595959;">98</div>
<div style="left:769px;top:937px;width:54px;height:19.200000000000045px;background:#faa9ac;line-height:20.600000000000044px;text-align:center;font-size:14.67px;color:#595959;">90</div>
<div style="left:823px;top:937px;width:43px;height:19.200000000000045px;background:#fcfafd;line-height:20.600000000000044px;text-align:center;font-size:14.67px;color:#595959;">77</div>
<div style="left:866px;top:937px;width:51px;height:19.200000000000045px;background:#fcf8fb;line-height:20.600000000000044px;text-align:center;font-size:14.67px;color:#595959;">78</div>
<div style="left:917px;top:937px;width:56px;height:19.200000000000045px;background:#fceaec;line-height:20.600000000000044px;text-align:center;font-size:14.67px;color:#595959;">81</div>
<div style="left:973px;top:937px;width:53px;height:19.200000000000045px;background:#f8696b;line-height:20.600000000000044px;text-align:center;font-size:14.67px;color:#595959;">99</div>
<div style="left:1026px;top:937px;width:54px;height:19.200000000000045px;background:#f98587;line-height:20.600000000000044px;text-align:center;font-size:14.67px;color:#595959;">95</div>
<div style="left:1080px;top:937px;width:54px;height:19.200000000000045px;background:#fbced1;line-height:20.600000000000044px;text-align:center;font-size:14.67px;color:#595959;">86</div>
<div style="left:1134px;top:937px;width:53px;height:19.200000000000045px;background:#faa4a6;line-height:20.600000000000044px;text-align:center;font-size:14.67px;color:#595959;">91</div>
<div style="left:1187px;top:937px;width:54px;height:19.200000000000045px;background:#f87b7e;line-height:20.600000000000044px;text-align:center;font-size:14.67px;color:#595959;">98</div>
<div style="left:1241px;top:937px;width:54px;height:19.200000000000045px;background:#fbdbde;line-height:20.600000000000044px;text-align:center;font-size:14.67px;color:#595959;">82</div>
<div style="left:1295px;top:937px;width:53px;height:19.200000000000045px;background:#fabcbe;line-height:20.600000000000044px;text-align:center;font-size:14.67px;color:#595959;">87</div>
<div style="left:1348px;top:937px;width:54px;height:19.200000000000045px;background:#fcedf0;line-height:20.600000000000044px;text-align:center;font-size:14.67px;color:#595959;">80</div>
<div style="left:1402px;top:937px;width:80px;height:19.200000000000045px;background:#fbe4e7;line-height:20.600000000000044px;text-align:center;font-size:14.67px;color:#595959;">81</div>
<div style="left:1482px;top:937px;width:51px;height:19.200000000000045px;background:#f99799;line-height:20.600000000000044px;text-align:center;font-size:14.67px;color:#595959;">92</div>
<div style="left:10px;top:956.2px;height:20.399999999999977px;line-height:21.799999999999976px;font-size:14.67px;color:#808080;letter-spacing:0.17px;">2025-12-01</div>
<div style="left:113.2px;width:60px;text-align:center;top:956.2px;height:20.399999999999977px;line-height:21.799999999999976px;font-size:14.67px;color:#7b2382;">66</div>
<div style="left:167.2px;width:60px;text-align:center;top:956.2px;height:20.399999999999977px;line-height:21.799999999999976px;font-size:14.67px;color:#808080;">69</div>
<div style="left:203.7px;width:60px;text-align:center;top:956.2px;height:20.399999999999977px;line-height:21.799999999999976px;font-size:14.67px;color:#808080;">93</div>
<div style="left:253.7px;width:60px;text-align:center;top:956.2px;height:20.399999999999977px;line-height:21.799999999999976px;font-size:14.67px;color:#808080;">76</div>
<div style="left:315.7px;width:60px;text-align:center;top:956.2px;height:20.399999999999977px;line-height:21.799999999999976px;font-size:14.67px;color:#808080;">77</div>
<div style="left:378.2px;width:60px;text-align:center;top:956.2px;height:20.399999999999977px;line-height:21.799999999999976px;font-size:14.67px;color:#000;">78</div>
<div style="left:439.7px;width:60px;text-align:center;top:956.2px;height:20.399999999999977px;line-height:21.799999999999976px;font-size:14.67px;color:#808080;">78</div>
<div style="left:502px;top:956.2px;width:53px;height:20.399999999999977px;background:#fab2b5;line-height:21.799999999999976px;text-align:center;font-size:14.67px;color:#595959;">82</div>
<div style="left:555px;top:956.2px;width:53px;height:20.399999999999977px;background:#fab2b5;line-height:21.799999999999976px;text-align:center;font-size:14.67px;color:#595959;">82</div>
<div style="left:608px;top:956.2px;width:54px;height:20.399999999999977px;background:#fbe4e7;line-height:21.799999999999976px;text-align:center;font-size:14.67px;color:#595959;">75</div>
<div style="left:662px;top:956.2px;width:54px;height:20.399999999999977px;background:#f99799;line-height:21.799999999999976px;text-align:center;font-size:14.67px;color:#595959;">86</div>
<div style="left:716px;top:956.2px;width:53px;height:20.399999999999977px;background:#f87274;line-height:21.799999999999976px;text-align:center;font-size:14.67px;color:#595959;">92</div>
<div style="left:769px;top:956.2px;width:54px;height:20.399999999999977px;background:#faa9ac;line-height:21.799999999999976px;text-align:center;font-size:14.67px;color:#595959;">83</div>
<div style="left:823px;top:956.2px;width:43px;height:20.399999999999977px;background:#fcfafd;line-height:21.799999999999976px;text-align:center;font-size:14.67px;color:#595959;">69</div>
<div style="left:866px;top:956.2px;width:51px;height:20.399999999999977px;background:#fcf8fb;line-height:21.799999999999976px;text-align:center;font-size:14.67px;color:#595959;">69</div>
<div style="left:917px;top:956.2px;width:56px;height:20.399999999999977px;background:#fbe6e9;line-height:21.799999999999976px;text-align:center;font-size:14.67px;color:#595959;">73</div>
<div style="left:973px;top:956.2px;width:53px;height:20.399999999999977px;background:#f87274;line-height:21.799999999999976px;text-align:center;font-size:14.67px;color:#595959;">93</div>
<div style="left:1026px;top:956.2px;width:54px;height:20.399999999999977px;background:#f99799;line-height:21.799999999999976px;text-align:center;font-size:14.67px;color:#595959;">87</div>
<div style="left:1080px;top:956.2px;width:54px;height:20.399999999999977px;background:#fbd2d4;line-height:21.799999999999976px;text-align:center;font-size:14.67px;color:#595959;">77</div>
<div style="left:1134px;top:956.2px;width:53px;height:20.399999999999977px;background:#fab2b5;line-height:21.799999999999976px;text-align:center;font-size:14.67px;color:#595959;">83</div>
<div style="left:1187px;top:956.2px;width:54px;height:20.399999999999977px;background:#f87b7e;line-height:21.799999999999976px;text-align:center;font-size:14.67px;color:#595959;">91</div>
<div style="left:1241px;top:956.2px;width:54px;height:20.399999999999977px;background:#fbe0e3;line-height:21.799999999999976px;text-align:center;font-size:14.67px;color:#595959;">73</div>
<div style="left:1295px;top:956.2px;width:53px;height:20.399999999999977px;background:#fac5c8;line-height:21.799999999999976px;text-align:center;font-size:14.67px;color:#595959;">79</div>
<div style="left:1348px;top:956.2px;width:54px;height:20.399999999999977px;background:#fceaec;line-height:21.799999999999976px;text-align:center;font-size:14.67px;color:#595959;">74</div>
<div style="left:1402px;top:956.2px;width:80px;height:20.399999999999977px;background:#fceaec;line-height:21.799999999999976px;text-align:center;font-size:14.67px;color:#595959;">73</div>
<div style="left:1482px;top:956.2px;width:51px;height:20.399999999999977px;background:#f99799;line-height:21.799999999999976px;text-align:center;font-size:14.67px;color:#595959;">85</div>
<div style="left:7px;top:778.6999999999999px;width:1526px;height:1.4px;background:#000;"></div>
<div style="left:106px;top:737px;width:1.3px;height:239.60000000000002px;background:#000;"></div>
<div style="left:501.2px;top:737px;height:239.60000000000002px;width:1.1px;background:repeating-linear-gradient(180deg,#000 0 1px,transparent 1px 2px);"></div>
<div style="left:7px;top:797.9px;width:1526px;height:1.2px;background:repeating-linear-gradient(90deg,#000 0 3px,transparent 3px 4.4px);"></div>
<div style="left:7px;top:858.1px;width:1526px;height:1.2px;background:repeating-linear-gradient(90deg,#000 0 3px,transparent 3px 4.4px);"></div>
<div style="left:7px;top:916.6px;width:1526px;height:1.2px;background:repeating-linear-gradient(90deg,#000 0 3px,transparent 3px 4.4px);"></div>
<div style="left:1576px;top:367.3px;width:340px;font-size:28px;line-height:33.4px;color:#7f7f7f;"><b style="color:#000">2011 vs 2012 (FMA):</b><br><span style="color:#222">2012</span>: Wet and windy S-<br>NC and C-EU is much<br>windier.<br><br><span style="color:#222">2011</span>: Wet and windy W-<br>NC and N-NC, but calm<br>and drier C-EU.</div>
<div style="left:1621px;top:669.3px;width:300px;font-size:28px;line-height:33.4px;color:#7f7f7f;">Calm DE and<br>calm/dry S-NC and<br>Hydbal will be okey<br>into summer as<br>export will be high.<br>But SE1 and partly<br>SE2 is a bearish risk.</div>
<svg style="position:absolute;left:1574px;top:678px" width="32" height="22" viewBox="0 0 32 22"><g fill="none" stroke="#7f7f7f" stroke-width="1.25" stroke-linecap="round" stroke-linejoin="miter"><path d="M2.4,6.45H23M2.4,14.5H23"/><path d="M19.5,3.5L28,10.45L19.5,17.5" stroke-width="1.4"/></g></svg>
<svg style="position:absolute;left:1574px;top:846px" width="32" height="22" viewBox="0 0 32 22"><g fill="none" stroke="#7f7f7f" stroke-width="1.25" stroke-linecap="round" stroke-linejoin="miter"><path d="M2.4,6.45H23M2.4,14.5H23"/><path d="M19.5,3.5L28,10.45L19.5,17.5" stroke-width="1.4"/></g></svg>
<div style="left:0px;top:981px;width:1919px;height:2px;background:#92bb45;"></div>
<div style="left:682px;top:1025px;font-size:17.6px;letter-spacing:0.2px;line-height:20px;color:#bfbfbf;">&copy;TradeWpower&ndash; all rights reserved</div>
<svg style="position:absolute;left:1560px;top:985px" width="100" height="90" viewBox="0 0 1200 1080">
<defs><clipPath id="cc"><circle cx="605" cy="542.5" r="484"/></clipPath></defs>
<g clip-path="url(#cc)">
<rect x="0" y="0" width="1200" height="1080" fill="#3998bb"/>
<path d="M80.0,675.0 C90.8,676.7 125.0,682.2 145.0,685.0 C165.0,687.8 177.5,691.2 200.0,692.0 C222.5,692.8 255.0,694.5 280.0,690.0 C305.0,685.5 321.7,677.0 350.0,665.0 C378.3,653.0 416.7,633.8 450.0,618.0 C483.3,602.2 516.7,584.7 550.0,570.0 C583.3,555.3 616.7,540.0 650.0,530.0 C683.3,520.0 716.7,513.7 750.0,510.0 C783.3,506.3 817.5,504.7 850.0,508.0 C882.5,511.3 915.0,521.3 945.0,530.0 C975.0,538.7 1002.5,548.3 1030.0,560.0 C1057.5,571.7 1096.7,593.3 1110.0,600.0 L1200,0 L0,0 Z" fill="#fff"/>
<path d="M620.0,705.0 C628.7,694.2 651.7,658.8 672.0,640.0 C692.3,621.2 716.5,604.5 742.0,592.0 C767.5,579.5 794.5,571.0 825.0,565.0 C855.5,559.0 890.8,555.0 925.0,556.0 C959.2,557.0 1003.3,565.0 1030.0,571.0 C1056.7,577.0 1068.3,585.2 1085.0,592.0 C1101.7,598.8 1122.5,608.7 1130.0,612.0" fill="none" stroke="#fff" stroke-width="48"/>
<path d="M100.0,420.0 C105.0,425.8 121.7,441.7 130.0,455.0 C138.3,468.3 138.3,487.5 150.0,500.0 C161.7,512.5 175.0,522.0 200.0,530.0 C225.0,538.0 266.7,545.5 300.0,548.0 C333.3,550.5 366.7,548.8 400.0,545.0 C433.3,541.2 466.7,534.2 500.0,525.0 C533.3,515.8 566.7,500.0 600.0,490.0 C633.3,480.0 666.7,470.3 700.0,465.0 C733.3,459.7 766.7,457.5 800.0,458.0 C833.3,458.5 866.7,461.0 900.0,468.0 C933.3,475.0 968.7,486.7 1000.0,500.0 C1031.3,513.3 1063.0,533.0 1088.0,548.0 C1113.0,563.0 1139.7,583.0 1150.0,590.0 L1200,0 L0,0 Z" fill="#92bb45"/>
<path d="M100.0,525.0 C103.7,527.5 112.0,533.3 122.0,540.0 C132.0,546.7 138.7,556.3 160.0,565.0 C181.3,573.7 221.7,586.2 250.0,592.0 C278.3,597.8 307.5,599.0 330.0,600.0 C352.5,601.0 375.8,598.3 385.0,598.0 C375.8,602.5 347.5,617.7 330.0,625.0 C312.5,632.3 301.7,638.2 280.0,642.0 C258.3,645.8 225.0,649.7 200.0,648.0 C175.0,646.3 148.3,636.7 130.0,632.0 C111.7,627.3 96.7,622.0 90.0,620.0 Z" fill="#92bb45"/>
</g></svg>
<div class="tw" style="left:1690px;top:997.4px;font-size:29.5px;line-height:33.6px;color:#8abd3c;letter-spacing:0.6px;-webkit-text-stroke:0.5px #fff;">Trade Weather<br><span style="padding-left:4.6px;letter-spacing:0.2px">Power</span></div>
</body></html>
